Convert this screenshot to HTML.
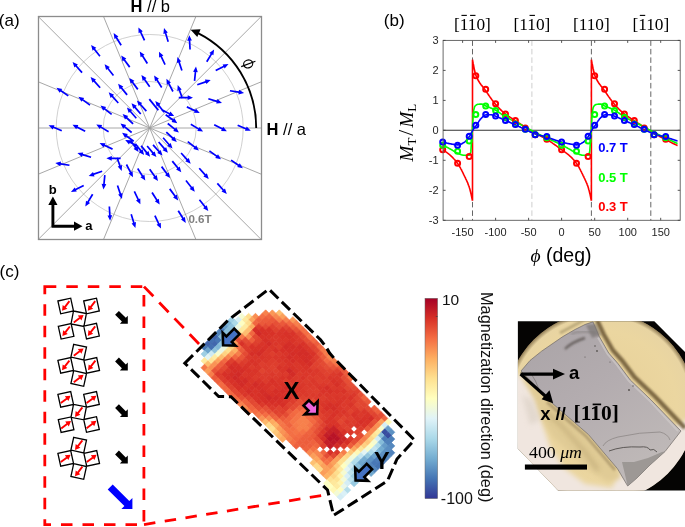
<!DOCTYPE html>
<html><head><meta charset="utf-8"><style>
html,body{margin:0;padding:0;background:#fff;}
body{width:685px;height:527px;overflow:hidden;}
svg{display:block;will-change:transform;}
svg{font-family:"Liberation Sans",sans-serif;}
</style></head><body>
<svg width="685" height="527" viewBox="0 0 685 527">
<circle cx="149.7" cy="128" r="46.5" fill="none" stroke="#c4c4c4" stroke-width="0.8"/>
<circle cx="149.7" cy="128" r="93.5" fill="none" stroke="#c4c4c4" stroke-width="0.8"/>
<line x1="261.5" y1="81.7" x2="38.5" y2="174.1" stroke="#8a8a8a" stroke-width="0.75"/>
<line x1="261.2" y1="16.5" x2="38.5" y2="239.2" stroke="#8a8a8a" stroke-width="0.75"/>
<line x1="195.9" y1="16.5" x2="103.5" y2="239.5" stroke="#8a8a8a" stroke-width="0.75"/>
<line x1="103.5" y1="16.5" x2="195.9" y2="239.5" stroke="#8a8a8a" stroke-width="0.75"/>
<line x1="38.5" y1="16.8" x2="261.2" y2="239.5" stroke="#8a8a8a" stroke-width="0.75"/>
<line x1="38.5" y1="81.9" x2="261.5" y2="174.3" stroke="#8a8a8a" stroke-width="0.75"/>
<line x1="38.5" y1="128" x2="261.5" y2="128" stroke="#a8a8a8" stroke-width="1"/>
<rect x="38.5" y="16.5" width="223" height="223" fill="none" stroke="#8c8c8c" stroke-width="1.3"/>
<path fill="#0000ff" d="M167.2 124.2 174.2 129.8 173.2 130.9 178.9 132.5 176.2 127.3 175.2 128.4 168.3 122.8ZM165.2 115.4 172.4 120.7 171.6 121.9 177.3 123.2 174.3 118.1 173.4 119.3 166.2 114.1ZM161.0 110.3 169.0 114.4 168.3 115.7 174.2 116.1 170.4 111.5 169.7 112.9 161.8 108.8ZM164.8 111.7 159.3 104.7 160.5 103.8 155.3 101.0 156.8 106.7 157.9 105.7 163.4 112.7ZM159.0 109.8 150.0 98.6 148.6 99.7 157.6 110.8ZM147.0 110.6 141.1 103.9 142.2 102.9 136.9 100.4 138.7 106.0 139.8 105.1 145.7 111.7ZM141.4 113.5 135.7 106.8 136.8 105.8 131.5 103.2 133.2 108.8 134.4 107.9 140.1 114.6ZM136.9 117.7 131.1 110.9 132.2 110.0 126.9 107.4 128.7 113.0 129.8 112.1 135.7 118.8ZM133.7 123.2 127.2 117.1 128.2 116.0 122.6 114.1 125.0 119.5 126.0 118.4 132.5 124.5ZM132.2 131.8 125.2 126.2 126.2 125.1 120.5 123.5 123.2 128.7 124.2 127.6 131.1 133.2ZM134.2 140.6 127.0 135.3 127.8 134.1 122.1 132.8 125.1 137.9 126.0 136.7 133.2 141.9ZM138.4 145.7 130.4 141.6 131.1 140.3 125.2 139.9 129.0 144.5 129.7 143.1 137.6 147.2ZM129.7 140.7 134.8 148.0 133.6 148.9 138.6 152.0 137.4 146.2 136.2 147.0 131.1 139.8ZM134.6 144.3 140.1 151.3 138.9 152.2 144.1 155.0 142.6 149.3 141.5 150.3 136.0 143.3ZM140.4 146.2 146.0 153.2 144.9 154.1 150.1 156.8 148.5 151.1 147.4 152.1 141.8 145.2ZM146.5 146.6 152.2 153.4 151.1 154.4 156.4 157.0 154.7 151.4 153.5 152.3 147.8 145.5ZM152.4 145.4 158.3 152.1 157.2 153.1 162.5 155.6 160.7 150.0 159.6 150.9 153.7 144.3ZM158.0 142.5 163.7 149.2 162.6 150.2 167.9 152.8 166.2 147.2 165.0 148.1 159.3 141.4ZM162.5 138.3 168.3 145.1 167.2 146.0 172.5 148.6 170.7 143.0 169.6 143.9 163.7 137.2ZM165.7 132.8 172.2 138.9 171.2 140.0 176.8 141.9 174.4 136.5 173.4 137.6 166.9 131.5ZM190.4 125.1 198.0 129.6 197.3 130.9 203.1 131.6 199.7 126.9 198.9 128.2 191.2 123.6ZM186.5 107.7 194.6 111.4 193.9 112.8 199.8 112.9 195.9 108.5 195.3 109.9 187.2 106.1ZM178.7 98.4 187.6 98.5 187.6 100.0 193.0 97.8 187.7 95.3 187.7 96.8 178.8 96.7ZM183.2 98.3 180.3 89.9 181.7 89.4 177.7 85.0 177.3 90.9 178.7 90.4 181.6 98.8ZM173.7 91.1 169.6 83.2 170.9 82.5 166.4 78.8 166.8 84.7 168.1 84.0 172.2 91.9ZM162.4 87.1 157.7 79.5 159.0 78.7 154.1 75.4 155.0 81.2 156.3 80.4 161.0 88.0ZM150.4 86.3 145.3 79.0 146.5 78.1 141.4 75.1 142.7 80.9 143.9 80.0 149.0 87.2ZM138.5 88.8 133.2 81.7 134.4 80.8 129.3 77.9 130.6 83.6 131.8 82.7 137.1 89.9ZM127.8 94.3 122.2 87.4 123.3 86.5 118.1 83.7 119.7 89.4 120.8 88.5 126.4 95.4ZM118.9 102.4 113.0 95.8 114.1 94.8 108.7 92.3 110.6 97.9 111.7 96.9 117.7 103.5ZM112.2 113.7 105.2 108.2 106.1 107.0 100.5 105.5 103.2 110.7 104.1 109.5 111.1 115.0ZM109.0 130.9 101.4 126.4 102.1 125.1 96.3 124.4 99.7 129.1 100.5 127.8 108.2 132.4ZM112.9 148.3 104.8 144.6 105.5 143.2 99.6 143.1 103.5 147.5 104.1 146.1 112.2 149.9ZM120.7 157.6 111.8 157.5 111.8 156.0 106.4 158.2 111.7 160.7 111.7 159.2 120.6 159.3ZM116.2 157.7 119.1 166.1 117.7 166.6 121.7 171.0 122.1 165.1 120.7 165.6 117.8 157.2ZM125.7 164.9 129.8 172.8 128.5 173.5 133.0 177.2 132.6 171.3 131.3 172.0 127.2 164.1ZM137.0 168.9 141.7 176.5 140.4 177.3 145.3 180.6 144.4 174.8 143.1 175.6 138.4 168.0ZM149.0 169.7 154.1 177.0 152.9 177.9 158.0 180.9 156.7 175.1 155.5 176.0 150.4 168.8ZM160.9 167.2 166.2 174.3 165.0 175.2 170.1 178.1 168.8 172.4 167.6 173.3 162.3 166.1ZM171.6 161.7 177.2 168.6 176.1 169.5 181.3 172.3 179.7 166.6 178.6 167.5 173.0 160.6ZM180.5 153.6 186.4 160.2 185.3 161.2 190.7 163.7 188.8 158.1 187.7 159.1 181.7 152.5ZM187.2 142.3 194.2 147.8 193.3 149.0 198.9 150.5 196.2 145.3 195.3 146.5 188.3 141.0ZM213.8 125.5 221.7 129.6 221.1 130.9 226.9 131.2 223.2 126.7 222.5 128.0 214.6 124.0ZM208.1 99.6 216.6 102.2 216.2 103.6 222.0 102.9 217.5 99.1 217.1 100.6 208.6 98.0ZM197.5 85.6 205.9 82.7 206.4 84.1 210.7 80.1 204.9 79.6 205.4 81.1 197.0 84.0ZM195.4 80.9 196.3 72.1 197.8 72.2 196.0 66.6 193.1 71.7 194.6 71.9 193.7 80.7ZM182.7 70.3 179.9 61.8 181.3 61.4 177.4 57.0 176.9 62.9 178.3 62.4 181.1 70.8ZM165.8 64.3 162.0 56.3 163.4 55.6 159.0 51.7 159.1 57.6 160.5 57.0 164.3 65.0ZM148.1 63.0 143.3 55.5 144.6 54.7 139.7 51.4 140.6 57.2 141.9 56.4 146.6 63.9ZM130.4 66.6 125.1 59.5 126.3 58.6 121.2 55.6 122.5 61.4 123.7 60.5 129.0 67.7ZM114.1 75.0 108.6 68.0 109.8 67.1 104.6 64.3 106.1 70.0 107.3 69.1 112.8 76.1ZM100.8 87.2 94.9 80.6 96.0 79.6 90.6 77.1 92.5 82.7 93.6 81.7 99.5 88.3ZM90.5 104.4 83.3 99.2 84.2 97.9 78.4 96.7 81.4 101.7 82.3 100.5 89.5 105.8ZM85.6 130.5 77.7 126.4 78.3 125.1 72.5 124.8 76.2 129.3 76.9 128.0 84.8 132.0ZM91.3 156.4 82.8 153.8 83.2 152.4 77.4 153.1 81.9 156.9 82.3 155.4 90.8 158.0ZM101.9 170.4 93.5 173.3 93.0 171.9 88.7 175.9 94.5 176.4 94.0 174.9 102.4 172.0ZM104.0 175.1 103.1 183.9 101.6 183.8 103.4 189.4 106.3 184.3 104.8 184.1 105.7 175.3ZM116.7 185.7 119.5 194.2 118.1 194.6 122.0 199.0 122.5 193.1 121.1 193.6 118.3 185.2ZM133.6 191.7 137.4 199.7 136.0 200.4 140.4 204.3 140.3 198.4 138.9 199.0 135.1 191.0ZM151.3 193.0 156.1 200.5 154.8 201.3 159.7 204.6 158.8 198.8 157.5 199.6 152.8 192.1ZM169.0 189.4 174.3 196.5 173.1 197.4 178.2 200.4 176.9 194.6 175.7 195.5 170.4 188.3ZM185.3 181.0 190.8 188.0 189.6 188.9 194.8 191.7 193.3 186.0 192.1 186.9 186.6 179.9ZM198.6 168.8 204.5 175.4 203.4 176.4 208.8 178.9 206.9 173.3 205.8 174.3 199.9 167.7ZM208.9 151.6 216.1 156.8 215.2 158.1 221.0 159.3 218.0 154.3 217.1 155.5 209.9 150.2ZM237.3 126.0 245.5 129.5 244.9 130.8 250.8 130.8 246.7 126.5 246.1 127.9 238.0 124.4ZM229.8 91.6 238.6 92.9 238.4 94.4 244.1 92.9 239.1 89.8 238.9 91.3 230.1 90.0ZM216.1 71.3 224.0 67.2 224.7 68.6 228.5 64.0 222.6 64.4 223.3 65.7 215.3 69.7ZM207.5 62.2 212.1 54.5 213.4 55.3 214.1 49.5 209.3 52.9 210.6 53.7 206.0 61.3ZM190.9 49.4 190.4 40.6 191.9 40.5 189.3 35.2 187.2 40.7 188.7 40.7 189.2 49.5ZM169.0 41.5 166.4 33.0 167.8 32.6 164.0 28.1 163.4 33.9 164.8 33.5 167.4 42.0ZM145.3 40.0 141.5 31.9 142.8 31.3 138.4 27.4 138.6 33.3 139.9 32.6 143.7 40.7ZM121.9 44.8 117.2 37.3 118.4 36.5 113.6 33.1 114.5 39.0 115.7 38.2 120.4 45.7ZM100.6 55.7 95.1 48.7 96.3 47.8 91.1 45.0 92.6 50.7 93.7 49.7 99.3 56.7ZM82.7 72.1 76.8 65.4 77.9 64.4 72.6 61.9 74.4 67.5 75.5 66.5 81.4 73.2ZM68.8 95.2 61.4 90.1 62.3 88.9 56.5 87.8 59.6 92.8 60.5 91.5 67.8 96.6ZM62.1 130.0 53.9 126.5 54.5 125.2 48.6 125.2 52.7 129.5 53.3 128.1 61.4 131.6ZM69.6 164.4 60.8 163.1 61.0 161.6 55.3 163.1 60.3 166.2 60.5 164.7 69.3 166.0ZM83.3 184.7 75.4 188.8 74.7 187.4 70.9 192.0 76.8 191.6 76.1 190.3 84.1 186.3ZM91.9 193.8 87.3 201.5 86.0 200.7 85.3 206.5 90.1 203.1 88.8 202.3 93.4 194.7ZM108.5 206.6 109.0 215.4 107.5 215.5 110.1 220.8 112.2 215.3 110.7 215.3 110.2 206.5ZM130.4 214.5 133.0 223.0 131.6 223.4 135.4 227.9 136.0 222.1 134.6 222.5 132.0 214.0ZM154.1 216.0 157.9 224.1 156.6 224.7 161.0 228.6 160.8 222.7 159.5 223.4 155.7 215.3ZM177.5 211.2 182.2 218.7 181.0 219.5 185.8 222.9 184.9 217.0 183.7 217.8 179.0 210.3ZM198.8 200.3 204.3 207.3 203.1 208.2 208.3 211.0 206.8 205.3 205.7 206.3 200.1 199.3ZM216.7 183.9 222.6 190.6 221.5 191.6 226.8 194.1 225.0 188.5 223.9 189.5 218.0 182.8ZM230.6 160.8 238.0 165.9 237.1 167.1 242.9 168.2 239.8 163.2 238.9 164.5 231.6 159.4Z"/>
<path d="M256.2 128.0 A106.5 106.5 0 0 0 198.0 33.1" fill="none" stroke="#000" stroke-width="1.9"/>
<path d="M190.6 29.7 L200.6 29.3 L197.3 37.0 Z" fill="#000"/>
<ellipse cx="248.2" cy="63.9" rx="4.6" ry="3.9" fill="none" stroke="#000" stroke-width="1.2" transform="rotate(-20 248.2 63.9)"/>
<line x1="241.2" y1="66.6" x2="255.4" y2="61.2" stroke="#000" stroke-width="1.2"/>
<text x="130.6" y="11.8" font-family="Liberation Sans" font-size="16.5"><tspan font-weight="bold">H</tspan> // b</text>
<text x="266.6" y="135" font-family="Liberation Sans" font-size="16.5"><tspan font-weight="bold">H</tspan> // a</text>
<text x="-1.2" y="26.2" font-family="Liberation Sans" font-size="17">(a)</text>
<path d="M52.9 227.6 V204 M51.5 226.2 H74" stroke="#000" stroke-width="2.9" fill="none"/>
<path d="M52.9 196.5 L57.5 205 L48.3 205 Z M82.5 226.2 L74 221.6 L74 230.8 Z" fill="#000"/>
<text x="48.8" y="193.5" font-family="Liberation Sans" font-size="13" font-weight="bold">b</text>
<text x="85.2" y="229.8" font-family="Liberation Sans" font-size="13" font-weight="bold">a</text>
<text x="188.4" y="222.9" font-family="Liberation Sans" font-size="11.6" font-weight="bold" fill="#808080">0.6T</text>
<line x1="472.5" y1="40.4" x2="472.5" y2="220.3" stroke="#555" stroke-width="0.9" stroke-dasharray="5.5 3"/>
<line x1="531.9" y1="40.4" x2="531.9" y2="220.3" stroke="#c8c8c8" stroke-width="0.9" stroke-dasharray="5.5 3"/>
<line x1="591.4" y1="40.4" x2="591.4" y2="220.3" stroke="#555" stroke-width="0.9" stroke-dasharray="5.5 3"/>
<line x1="650.8" y1="40.4" x2="650.8" y2="220.3" stroke="#555" stroke-width="0.9" stroke-dasharray="5.5 3"/>
<line x1="443.1" y1="130.3" x2="680.2" y2="130.3" stroke="#333" stroke-width="1.1"/>
<path d="M442.7 149.7 L443.1 149.9 L443.4 150.1 L443.7 150.3 L444.0 150.5 L444.4 150.7 L444.7 150.9 L445.0 151.1 L445.4 151.3 L445.7 151.6 L446.0 151.8 L446.3 152.1 L446.7 152.3 L447.0 152.6 L447.3 152.8 L447.6 153.1 L448.0 153.3 L448.3 153.6 L448.6 153.9 L448.9 154.2 L449.3 154.4 L449.6 154.7 L449.9 155.0 L450.3 155.3 L450.6 155.6 L450.9 155.9 L451.2 156.2 L451.6 156.5 L451.9 156.8 L452.2 157.1 L452.5 157.5 L452.9 157.8 L453.2 158.1 L453.5 158.5 L453.8 158.8 L454.2 159.2 L454.5 159.5 L454.8 159.9 L455.2 160.3 L455.5 160.7 L455.8 161.1 L456.1 161.5 L456.5 161.9 L456.8 162.3 L457.1 162.8 L457.4 163.2 L457.8 163.7 L458.1 164.1 L458.4 164.6 L458.7 165.1 L459.1 165.6 L459.4 166.2 L459.7 166.7 L460.1 167.3 L460.4 167.9 L460.7 168.5 L461.0 169.1 L461.4 169.7 L461.7 170.4 L462.0 171.0 L462.3 171.7 L462.7 172.3 L463.0 173.0 L463.3 173.7 L463.6 174.3 L464.0 175.0 L464.3 175.7 L464.6 176.4 L465.0 177.1 L465.3 177.7 L465.6 178.4 L465.9 179.1 L466.3 179.8 L466.6 180.5 L466.9 181.2 L467.2 182.0 L467.6 182.7 L467.9 183.5 L468.2 184.4 L468.5 185.2 L468.9 186.1 L469.2 187.1 L469.5 188.1 L469.9 189.2 L470.2 190.5 L470.5 191.7 L470.8 193.1 L471.2 194.6 L471.5 196.1 L471.8 197.6 L472.1 199.2 L472.5 200.8 M472.5 59.7 L472.8 61.4 L473.1 63.2 L473.5 64.9 L473.8 66.6 L474.1 68.3 L474.4 69.8 L474.8 71.3 L475.1 72.7 L475.4 73.9 L475.8 75.0 L476.1 75.9 L476.4 76.7 L476.8 77.4 L477.1 78.1 L477.4 78.8 L477.7 79.5 L478.1 80.1 L478.4 80.7 L478.7 81.3 L479.1 81.8 L479.4 82.3 L479.7 82.8 L480.0 83.3 L480.4 83.8 L480.7 84.2 L481.0 84.7 L481.4 85.1 L481.7 85.5 L482.0 85.9 L482.4 86.3 L482.7 86.7 L483.0 87.1 L483.3 87.5 L483.7 88.0 L484.0 88.4 L484.3 88.8 L484.7 89.2 L485.0 89.7 L485.3 90.2 L485.6 90.6 L486.0 91.1 L486.3 91.6 L486.6 92.1 L487.0 92.6 L487.3 93.1 L487.6 93.5 L488.0 94.0 L488.3 94.5 L488.6 95.0 L488.9 95.5 L489.3 95.9 L489.6 96.4 L489.9 96.9 L490.3 97.4 L490.6 97.8 L490.9 98.3 L491.2 98.8 L491.6 99.2 L491.9 99.7 L492.2 100.1 L492.6 100.6 L492.9 101.0 L493.2 101.4 L493.5 101.9 L493.9 102.3 L494.2 102.7 L494.5 103.1 L494.9 103.5 L495.2 103.9 L495.5 104.3 L495.9 104.6 L496.2 105.0 L496.5 105.4 L496.8 105.7 L497.2 106.1 L497.5 106.5 L497.8 106.8 L498.2 107.2 L498.5 107.5 L498.8 107.9 L499.1 108.2 L499.5 108.6 L499.8 108.9 L500.1 109.2 L500.5 109.6 L500.8 109.9 L501.1 110.2 L501.5 110.5 L501.8 110.8 L502.1 111.2 L502.4 111.5 L502.8 111.8 L503.1 112.1 L503.4 112.3 L503.8 112.6 L504.1 112.9 L504.4 113.2 L504.7 113.5 L505.1 113.7 L505.4 114.0 L505.7 114.2 L506.1 114.5 L506.4 114.7 L506.7 115.0 L507.1 115.2 L507.4 115.5 L507.7 115.7 L508.0 115.9 L508.4 116.1 L508.7 116.4 L509.0 116.6 L509.4 116.8 L509.7 117.0 L510.0 117.2 L510.3 117.4 L510.7 117.6 L511.0 117.8 L511.3 118.0 L511.7 118.2 L512.0 118.5 L512.3 118.7 L512.7 118.9 L513.0 119.1 L513.3 119.3 L513.6 119.5 L514.0 119.7 L514.3 119.9 L514.6 120.1 L515.0 120.4 L515.3 120.6 L515.6 120.8 L515.9 121.0 L516.3 121.2 L516.6 121.4 L516.9 121.7 L517.3 121.9 L517.6 122.1 L517.9 122.3 L518.3 122.5 L518.6 122.8 L518.9 123.0 L519.2 123.2 L519.6 123.4 L519.9 123.6 L520.2 123.9 L520.6 124.1 L520.9 124.3 L521.2 124.5 L521.5 124.7 L521.9 124.9 L522.2 125.1 L522.5 125.4 L522.9 125.6 L523.2 125.8 L523.5 126.0 L523.9 126.2 L524.2 126.4 L524.5 126.6 L524.8 126.8 L525.2 127.0 L525.5 127.3 L525.8 127.5 L526.2 127.7 L526.5 127.9 L526.8 128.1 L527.1 128.3 L527.5 128.5 L527.8 128.7 L528.1 128.9 L528.5 129.1 L528.8 129.3 L529.1 129.5 L529.5 129.7 L529.8 129.9 L530.1 130.1 L530.4 130.4 L530.8 130.6 L531.1 130.8 L531.4 131.0 L531.8 131.2 L532.1 131.4 L532.4 131.6 L532.7 131.7 L533.1 131.9 L533.4 132.1 L533.7 132.3 L534.1 132.5 L534.4 132.7 L534.7 132.9 L535.1 133.1 L535.4 133.3 L535.7 133.5 L536.0 133.7 L536.4 133.8 L536.7 134.0 L537.0 134.2 L537.4 134.4 L537.7 134.5 L538.0 134.7 L538.3 134.9 L538.7 135.1 L539.0 135.2 L539.3 135.4 L539.7 135.6 L540.0 135.7 L540.3 135.9 L540.7 136.1 L541.0 136.2 L541.3 136.4 L541.6 136.6 L542.0 136.8 L542.3 136.9 L542.6 137.1 L543.0 137.3 L543.3 137.4 L543.6 137.6 L543.9 137.8 L544.3 138.0 L544.6 138.1 L544.9 138.3 L545.3 138.5 L545.6 138.7 L545.9 138.9 L546.3 139.1 L546.6 139.3 L546.9 139.5 L547.2 139.7 L547.6 139.9 L547.9 140.1 L548.2 140.3 L548.6 140.5 L548.9 140.7 L549.2 140.9 L549.5 141.1 L549.9 141.3 L550.2 141.6 L550.5 141.8 L550.9 142.0 L551.2 142.2 L551.5 142.4 L551.9 142.7 L552.2 142.9 L552.5 143.1 L552.8 143.3 L553.2 143.6 L553.5 143.8 L553.8 144.0 L554.2 144.3 L554.5 144.5 L554.8 144.7 L555.1 145.0 L555.5 145.2 L555.8 145.4 L556.1 145.7 L556.5 145.9 L556.8 146.1 L557.1 146.4 L557.5 146.6 L557.8 146.9 L558.1 147.1 L558.4 147.3 L558.8 147.6 L559.1 147.8 L559.4 148.1 L559.8 148.3 L560.1 148.6 L560.4 148.8 L560.7 149.0 L561.1 149.3 L561.4 149.5 L561.7 149.8 L562.1 150.0 L562.4 150.2 L562.7 150.5 L563.0 150.7 L563.4 150.9 L563.7 151.2 L564.0 151.4 L564.4 151.6 L564.7 151.9 L565.0 152.1 L565.4 152.4 L565.7 152.6 L566.0 152.8 L566.3 153.1 L566.7 153.3 L567.0 153.6 L567.3 153.8 L567.7 154.1 L568.0 154.4 L568.3 154.6 L568.6 154.9 L569.0 155.2 L569.3 155.5 L569.6 155.8 L570.0 156.1 L570.3 156.4 L570.6 156.7 L571.0 157.0 L571.3 157.3 L571.6 157.6 L571.9 158.0 L572.3 158.3 L572.6 158.7 L572.9 159.0 L573.3 159.4 L573.6 159.7 L573.9 160.1 L574.2 160.5 L574.6 160.9 L574.9 161.3 L575.2 161.7 L575.6 162.2 L575.9 162.6 L576.2 163.0 L576.6 163.5 L576.9 164.0 L577.2 164.4 L577.5 164.9 L577.9 165.5 L578.2 166.0 L578.5 166.6 L578.9 167.1 L579.2 167.7 L579.5 168.3 L579.8 168.9 L580.2 169.6 L580.5 170.2 L580.8 170.8 L581.2 171.5 L581.5 172.2 L581.8 172.8 L582.2 173.5 L582.5 174.2 L582.8 174.9 L583.1 175.6 L583.5 176.2 L583.8 176.9 L584.1 177.6 L584.5 178.3 L584.8 179.0 L585.1 179.7 L585.4 180.4 L585.8 181.1 L586.1 181.9 L586.4 182.6 L586.8 183.4 L587.1 184.3 L587.4 185.1 L587.8 186.1 L588.1 187.0 L588.4 188.0 L588.7 189.2 L589.1 190.4 L589.4 191.7 L589.7 193.1 L590.1 194.5 L590.4 196.0 L590.7 197.6 L591.0 199.2 L591.4 200.8 M591.4 59.7 L591.7 61.4 L592.0 63.2 L592.4 64.9 L592.7 66.6 L593.0 68.2 L593.4 69.8 L593.7 71.3 L594.0 72.6 L594.3 73.9 L594.7 75.0 L595.0 75.9 L595.3 76.7 L595.7 77.4 L596.0 78.1 L596.3 78.8 L596.6 79.5 L597.0 80.1 L597.3 80.7 L597.6 81.3 L598.0 81.8 L598.3 82.3 L598.6 82.8 L598.9 83.3 L599.3 83.8 L599.6 84.2 L599.9 84.6 L600.3 85.1 L600.6 85.5 L600.9 85.9 L601.2 86.3 L601.6 86.7 L601.9 87.1 L602.2 87.5 L602.6 87.9 L602.9 88.4 L603.2 88.8 L603.6 89.2 L603.9 89.7 L604.2 90.1 L604.5 90.6 L604.9 91.1 L605.2 91.6 L605.5 92.1 L605.9 92.5 L606.2 93.0 L606.5 93.5 L606.8 94.0 L607.2 94.5 L607.5 95.0 L607.8 95.4 L608.2 95.9 L608.5 96.4 L608.8 96.9 L609.1 97.3 L609.5 97.8 L609.8 98.3 L610.1 98.7 L610.5 99.2 L610.8 99.6 L611.1 100.1 L611.4 100.5 L611.8 101.0 L612.1 101.4 L612.4 101.8 L612.8 102.2 L613.1 102.7 L613.4 103.1 L613.8 103.5 L614.1 103.8 L614.4 104.2 L614.7 104.6 L615.1 105.0 L615.4 105.4 L615.7 105.7 L616.1 106.1 L616.4 106.4 L616.7 106.8 L617.0 107.2 L617.4 107.5 L617.7 107.9 L618.0 108.2 L618.4 108.5 L618.7 108.9 L619.0 109.2 L619.3 109.5 L619.7 109.9 L620.0 110.2 L620.3 110.5 L620.7 110.8 L621.0 111.1 L621.3 111.4 L621.6 111.7 L622.0 112.0 L622.3 112.3 L622.6 112.6 L623.0 112.9 L623.3 113.2 L623.6 113.4 L624.0 113.7 L624.3 114.0 L624.6 114.2 L624.9 114.5 L625.3 114.7 L625.6 115.0 L625.9 115.2 L626.3 115.4 L626.6 115.7 L626.9 115.9 L627.2 116.1 L627.6 116.3 L627.9 116.5 L628.2 116.8 L628.6 117.0 L628.9 117.2 L629.2 117.4 L629.5 117.6 L629.9 117.8 L630.2 118.0 L630.5 118.2 L630.9 118.4 L631.2 118.6 L631.5 118.8 L631.8 119.0 L632.2 119.3 L632.5 119.5 L632.8 119.7 L633.2 119.9 L633.5 120.1 L633.8 120.3 L634.2 120.5 L634.5 120.8 L634.8 121.0 L635.1 121.2 L635.5 121.4 L635.8 121.6 L636.1 121.9 L636.5 122.1 L636.8 122.3 L637.1 122.5 L637.4 122.7 L637.8 123.0 L638.1 123.2 L638.4 123.4 L638.8 123.6 L639.1 123.8 L639.4 124.0 L639.7 124.3 L640.1 124.5 L640.4 124.7 L640.7 124.9 L641.1 125.1 L641.4 125.3 L641.7 125.5 L642.0 125.8 L642.4 126.0 L642.7 126.2 L643.0 126.4 L643.4 126.6 L643.7 126.8 L644.0 127.0 L644.4 127.2 L644.7 127.4 L645.0 127.6 L645.3 127.8 L645.7 128.0 L646.0 128.3 L646.3 128.5 L646.7 128.7 L647.0 128.9 L647.3 129.1 L647.6 129.3 L648.0 129.5 L648.3 129.7 L648.6 129.9 L649.0 130.1 L649.3 130.3 L649.6 130.5 L649.9 130.7 L650.3 130.9 L650.6 131.1 L650.9 131.3 L651.3 131.5 L651.6 131.7 L651.9 131.9 L652.2 132.1 L652.6 132.3 L652.9 132.5 L653.2 132.7 L653.6 132.9 L653.9 133.1 L654.2 133.3 L654.6 133.4 L654.9 133.6 L655.2 133.8 L655.5 134.0 L655.9 134.2 L656.2 134.4 L656.5 134.6 L656.9 134.8 L657.2 135.0 L657.5 135.2 L657.8 135.4 L658.2 135.5 L658.5 135.7 L658.8 135.9 L659.2 136.1 L659.5 136.3 L659.8 136.5 L660.1 136.7 L660.5 136.8 L660.8 137.0 L661.1 137.2 L661.5 137.4 L661.8 137.6 L662.1 137.8 L662.4 137.9 L662.8 138.1 L663.1 138.3 L663.4 138.5 L663.8 138.7 L664.1 138.8 L664.4 139.0 L664.8 139.2 L665.1 139.4 L665.4 139.5 L665.7 139.7 L666.1 139.9 L666.4 140.1 L666.7 140.2 L667.1 140.4 L667.4 140.6 L667.7 140.7 L668.0 140.9 L668.4 141.1 L668.7 141.2 L669.0 141.4 L669.4 141.6 L669.7 141.7 L670.0 141.9 L670.3 142.1 L670.7 142.2 L671.0 142.4 L671.3 142.6 L671.7 142.7 L672.0 142.9 L672.3 143.0 L672.6 143.2 L673.0 143.4 L673.3 143.5 L673.6 143.7 L674.0 143.8 L674.3 144.0 L674.6 144.2 L675.0 144.3 L675.3 144.5 L675.6 144.6 L675.9 144.8 L676.3 144.9 L676.6 145.1 L676.9 145.2 L677.3 145.4 L677.6 145.5 M472.5 200.8 L472.5 59.7 M591.4 200.8 L591.4 59.7" fill="none" stroke="#ff0000" stroke-width="1.6"/>
<path d="M442.7 144.9 L443.1 145.1 L443.4 145.3 L443.7 145.4 L444.1 145.6 L444.4 145.8 L444.7 146.0 L445.1 146.1 L445.4 146.3 L445.7 146.5 L446.0 146.7 L446.4 146.9 L446.7 147.0 L447.0 147.2 L447.4 147.4 L447.7 147.6 L448.0 147.8 L448.3 147.9 L448.7 148.1 L449.0 148.3 L449.3 148.5 L449.7 148.7 L450.0 148.9 L450.3 149.0 L450.7 149.2 L451.0 149.4 L451.3 149.6 L451.6 149.8 L452.0 150.0 L452.3 150.2 L452.6 150.4 L453.0 150.6 L453.3 150.8 L453.6 151.0 L454.0 151.2 L454.3 151.4 L454.6 151.6 L454.9 151.8 L455.3 152.0 L455.6 152.2 L455.9 152.4 L456.3 152.6 L456.6 152.8 L456.9 153.0 L457.3 153.1 L457.6 153.3 L457.9 153.4 L458.2 153.5 L458.6 153.6 L458.9 153.8 L459.2 153.9 L459.6 154.0 L459.9 154.2 L460.2 154.3 L460.6 154.4 L460.9 154.5 L461.2 154.7 L461.5 154.8 L461.9 154.9 L462.2 155.0 L462.5 155.0 L462.9 155.1 L463.2 155.2 L463.5 155.2 L463.9 155.3 L464.2 155.3 L464.5 155.3 L464.8 155.3 L465.2 155.3 L465.5 155.3 L465.8 155.3 L466.2 155.3 L466.5 155.3 L466.8 155.3 L467.1 155.3 L467.5 155.3 L467.8 155.3 L468.1 155.2 L468.5 155.2 L468.8 155.2 L469.1 155.2 L469.5 155.1 L469.8 154.7 L470.1 154.0 L470.4 153.1 L470.8 151.9 L471.1 147.8 L471.4 142.7 L471.8 138.8 L472.1 134.6 L472.4 128.8 L472.8 122.0 L473.1 116.8 L473.4 112.9 L473.7 110.2 L474.1 108.7 L474.4 107.5 L474.7 106.6 L475.1 106.0 L475.4 105.7 L475.7 105.4 L476.1 105.2 L476.4 104.9 L476.7 104.7 L477.0 104.6 L477.4 104.4 L477.7 104.3 L478.0 104.2 L478.4 104.2 L478.7 104.2 L479.0 104.2 L479.4 104.2 L479.7 104.1 L480.0 104.1 L480.3 104.1 L480.7 104.1 L481.0 104.1 L481.3 104.1 L481.7 104.1 L482.0 104.1 L482.3 104.2 L482.7 104.3 L483.0 104.4 L483.3 104.6 L483.6 104.8 L484.0 105.0 L484.3 105.2 L484.6 105.4 L485.0 105.5 L485.3 105.7 L485.6 105.9 L486.0 106.0 L486.3 106.1 L486.6 106.3 L486.9 106.4 L487.3 106.6 L487.6 106.7 L487.9 106.8 L488.3 107.0 L488.6 107.1 L488.9 107.2 L489.2 107.4 L489.6 107.5 L489.9 107.6 L490.2 107.8 L490.6 107.9 L490.9 108.0 L491.2 108.2 L491.6 108.3 L491.9 108.5 L492.2 108.6 L492.5 108.7 L492.9 108.9 L493.2 109.0 L493.5 109.2 L493.9 109.3 L494.2 109.5 L494.5 109.7 L494.9 109.8 L495.2 110.0 L495.5 110.2 L495.8 110.3 L496.2 110.5 L496.5 110.7 L496.8 110.9 L497.2 111.1 L497.5 111.3 L497.8 111.6 L498.2 111.8 L498.5 112.0 L498.8 112.2 L499.1 112.5 L499.5 112.7 L499.8 112.9 L500.1 113.2 L500.5 113.4 L500.8 113.6 L501.1 113.9 L501.5 114.1 L501.8 114.4 L502.1 114.6 L502.4 114.8 L502.8 115.1 L503.1 115.3 L503.4 115.5 L503.8 115.7 L504.1 115.9 L504.4 116.1 L504.8 116.3 L505.1 116.5 L505.4 116.7 L505.7 116.9 L506.1 117.1 L506.4 117.3 L506.7 117.5 L507.1 117.7 L507.4 117.9 L507.7 118.0 L508.0 118.2 L508.4 118.4 L508.7 118.6 L509.0 118.7 L509.4 118.9 L509.7 119.1 L510.0 119.2 L510.4 119.4 L510.7 119.6 L511.0 119.7 L511.3 119.9 L511.7 120.1 L512.0 120.2 L512.3 120.4 L512.7 120.6 L513.0 120.7 L513.3 120.9 L513.7 121.1 L514.0 121.2 L514.3 121.4 L514.6 121.6 L515.0 121.7 L515.3 121.9 L515.6 122.1 L516.0 122.3 L516.3 122.4 L516.6 122.6 L517.0 122.8 L517.3 122.9 L517.6 123.1 L517.9 123.2 L518.3 123.4 L518.6 123.6 L518.9 123.7 L519.3 123.9 L519.6 124.1 L519.9 124.2 L520.3 124.4 L520.6 124.6 L520.9 124.7 L521.2 124.9 L521.6 125.1 L521.9 125.2 L522.2 125.4 L522.6 125.6 L522.9 125.7 L523.2 125.9 L523.6 126.1 L523.9 126.2 L524.2 126.4 L524.5 126.6 L524.9 126.8 L525.2 126.9 L525.5 127.1 L525.9 127.3 L526.2 127.5 L526.5 127.7 L526.9 127.9 L527.2 128.0 L527.5 128.2 L527.8 128.4 L528.2 128.6 L528.5 128.8 L528.8 129.0 L529.2 129.2 L529.5 129.4 L529.8 129.5 L530.1 129.7 L530.5 129.9 L530.8 130.1 L531.1 130.3 L531.5 130.5 L531.8 130.7 L532.1 130.8 L532.5 131.0 L532.8 131.2 L533.1 131.4 L533.4 131.6 L533.8 131.7 L534.1 131.9 L534.4 132.1 L534.8 132.3 L535.1 132.4 L535.4 132.6 L535.8 132.8 L536.1 132.9 L536.4 133.1 L536.7 133.3 L537.1 133.4 L537.4 133.6 L537.7 133.8 L538.1 133.9 L538.4 134.1 L538.7 134.2 L539.1 134.4 L539.4 134.5 L539.7 134.7 L540.0 134.9 L540.4 135.0 L540.7 135.2 L541.0 135.3 L541.4 135.5 L541.7 135.6 L542.0 135.8 L542.4 135.9 L542.7 136.1 L543.0 136.2 L543.3 136.4 L543.7 136.5 L544.0 136.7 L544.3 136.9 L544.7 137.0 L545.0 137.2 L545.3 137.3 L545.7 137.5 L546.0 137.6 L546.3 137.8 L546.6 137.9 L547.0 138.1 L547.3 138.2 L547.6 138.4 L548.0 138.5 L548.3 138.7 L548.6 138.9 L548.9 139.0 L549.3 139.2 L549.6 139.3 L549.9 139.5 L550.3 139.6 L550.6 139.8 L550.9 139.9 L551.3 140.0 L551.6 140.2 L551.9 140.3 L552.2 140.5 L552.6 140.6 L552.9 140.8 L553.2 140.9 L553.6 141.1 L553.9 141.2 L554.2 141.4 L554.6 141.5 L554.9 141.7 L555.2 141.8 L555.5 142.0 L555.9 142.1 L556.2 142.3 L556.5 142.4 L556.9 142.6 L557.2 142.7 L557.5 142.9 L557.9 143.1 L558.2 143.2 L558.5 143.4 L558.8 143.5 L559.2 143.7 L559.5 143.8 L559.8 144.0 L560.2 144.2 L560.5 144.3 L560.8 144.5 L561.2 144.7 L561.5 144.8 L561.8 145.0 L562.1 145.2 L562.5 145.3 L562.8 145.5 L563.1 145.7 L563.5 145.8 L563.8 146.0 L564.1 146.2 L564.5 146.4 L564.8 146.6 L565.1 146.7 L565.4 146.9 L565.8 147.1 L566.1 147.3 L566.4 147.5 L566.8 147.6 L567.1 147.8 L567.4 148.0 L567.7 148.2 L568.1 148.4 L568.4 148.6 L568.7 148.8 L569.1 148.9 L569.4 149.1 L569.7 149.3 L570.1 149.5 L570.4 149.7 L570.7 149.9 L571.0 150.1 L571.4 150.3 L571.7 150.5 L572.0 150.7 L572.4 150.9 L572.7 151.1 L573.0 151.3 L573.4 151.5 L573.7 151.7 L574.0 151.9 L574.3 152.1 L574.7 152.3 L575.0 152.5 L575.3 152.7 L575.7 152.9 L576.0 153.0 L576.3 153.2 L576.7 153.3 L577.0 153.5 L577.3 153.6 L577.6 153.7 L578.0 153.8 L578.3 154.0 L578.6 154.1 L579.0 154.2 L579.3 154.4 L579.6 154.5 L580.0 154.6 L580.3 154.7 L580.6 154.8 L580.9 154.9 L581.3 155.0 L581.6 155.1 L581.9 155.1 L582.3 155.2 L582.6 155.2 L582.9 155.3 L583.3 155.3 L583.6 155.3 L583.9 155.3 L584.2 155.3 L584.6 155.3 L584.9 155.3 L585.2 155.3 L585.6 155.3 L585.9 155.3 L586.2 155.3 L586.6 155.3 L586.9 155.3 L587.2 155.2 L587.5 155.2 L587.9 155.2 L588.2 155.2 L588.5 154.9 L588.9 154.4 L589.2 153.6 L589.5 152.5 L589.8 150.3 L590.2 145.1 L590.5 140.7 L590.8 136.8 L591.2 132.0 L591.5 125.4 L591.8 119.1 L592.2 114.8 L592.5 111.4 L592.8 109.4 L593.1 108.1 L593.5 107.0 L593.8 106.3 L594.1 105.9 L594.5 105.6 L594.8 105.3 L595.1 105.0 L595.5 104.8 L595.8 104.6 L596.1 104.5 L596.4 104.4 L596.8 104.3 L597.1 104.2 L597.4 104.2 L597.8 104.2 L598.1 104.2 L598.4 104.1 L598.8 104.1 L599.1 104.1 L599.4 104.1 L599.7 104.1 L600.1 104.1 L600.4 104.1 L600.7 104.1 L601.1 104.1 L601.4 104.2 L601.7 104.3 L602.1 104.5 L602.4 104.7 L602.7 104.9 L603.0 105.1 L603.4 105.3 L603.7 105.4 L604.0 105.6 L604.4 105.8 L604.7 105.9 L605.0 106.1 L605.4 106.2 L605.7 106.4 L606.0 106.5 L606.3 106.6 L606.7 106.8 L607.0 106.9 L607.3 107.0 L607.7 107.2 L608.0 107.3 L608.3 107.4 L608.6 107.6 L609.0 107.7 L609.3 107.8 L609.6 108.0 L610.0 108.1 L610.3 108.2 L610.6 108.4 L611.0 108.5 L611.3 108.7 L611.6 108.8 L611.9 109.0 L612.3 109.1 L612.6 109.3 L612.9 109.4 L613.3 109.6 L613.6 109.7 L613.9 109.9 L614.3 110.1 L614.6 110.3 L614.9 110.4 L615.2 110.6 L615.6 110.8 L615.9 111.0 L616.2 111.2 L616.6 111.5 L616.9 111.7 L617.2 111.9 L617.6 112.1 L617.9 112.3 L618.2 112.6 L618.5 112.8 L618.9 113.0 L619.2 113.3 L619.5 113.5 L619.9 113.8 L620.2 114.0 L620.5 114.2 L620.9 114.5 L621.2 114.7 L621.5 114.9 L621.8 115.2 L622.2 115.4 L622.5 115.6 L622.8 115.8 L623.2 116.0 L623.5 116.2 L623.8 116.4 L624.2 116.6 L624.5 116.8 L624.8 117.0 L625.1 117.2 L625.5 117.4 L625.8 117.6 L626.1 117.8 L626.5 117.9 L626.8 118.1 L627.1 118.3 L627.5 118.5 L627.8 118.6 L628.1 118.8 L628.4 119.0 L628.8 119.2 L629.1 119.3 L629.4 119.5 L629.8 119.7 L630.1 119.8 L630.4 120.0 L630.7 120.2 L631.1 120.3 L631.4 120.5 L631.7 120.7 L632.1 120.8 L632.4 121.0 L632.7 121.2 L633.1 121.3 L633.4 121.5 L633.7 121.7 L634.0 121.8 L634.4 122.0 L634.7 122.2 L635.0 122.3 L635.4 122.5 L635.7 122.7 L636.0 122.8 L636.4 123.0 L636.7 123.2 L637.0 123.3 L637.3 123.5 L637.7 123.7 L638.0 123.8 L638.3 124.0 L638.7 124.1 L639.0 124.3 L639.3 124.5 L639.7 124.6 L640.0 124.8 L640.3 125.0 L640.6 125.1 L641.0 125.3 L641.3 125.5 L641.6 125.6 L642.0 125.8 L642.3 126.0 L642.6 126.2 L643.0 126.3 L643.3 126.5 L643.6 126.7 L643.9 126.9 L644.3 127.0 L644.6 127.2 L644.9 127.4 L645.3 127.6 L645.6 127.8 L645.9 127.9 L646.3 128.1 L646.6 128.3 L646.9 128.5 L647.2 128.7 L647.6 128.9 L647.9 129.1 L648.2 129.3 L648.6 129.4 L648.9 129.6 L649.2 129.8 L649.5 130.0 L649.9 130.2 L650.2 130.4 L650.5 130.6 L650.9 130.7 L651.2 130.9 L651.5 131.1 L651.9 131.3 L652.2 131.5 L652.5 131.7 L652.8 131.8 L653.2 132.0 L653.5 132.2 L653.8 132.3 L654.2 132.5 L654.5 132.7 L654.8 132.9 L655.2 133.0 L655.5 133.2 L655.8 133.3 L656.1 133.5 L656.5 133.7 L656.8 133.8 L657.1 134.0 L657.5 134.1 L657.8 134.3 L658.1 134.5 L658.5 134.6 L658.8 134.8 L659.1 134.9 L659.4 135.1 L659.8 135.2 L660.1 135.4 L660.4 135.6 L660.8 135.7 L661.1 135.9 L661.4 136.0 L661.8 136.2 L662.1 136.3 L662.4 136.5 L662.7 136.6 L663.1 136.8 L663.4 136.9 L663.7 137.1 L664.1 137.2 L664.4 137.4 L664.7 137.5 L665.1 137.7 L665.4 137.9 L665.7 138.0 L666.0 138.2 L666.4 138.3 L666.7 138.5 L667.0 138.6 L667.4 138.8 L667.7 138.9 L668.0 139.1 L668.3 139.2 L668.7 139.4 L669.0 139.6 L669.3 139.7 L669.7 139.9 L670.0 140.0 L670.3 140.2 L670.7 140.3 L671.0 140.5 L671.3 140.6 L671.6 140.8 L672.0 140.9 L672.3 141.1 L672.6 141.2 L673.0 141.4 L673.3 141.6 L673.6 141.7 L674.0 141.9 L674.3 142.0 L674.6 142.2 L674.9 142.3 L675.3 142.5 L675.6 142.6 L675.9 142.8 L676.3 142.9 L676.6 143.1 L676.9 143.2 L677.3 143.4 L677.6 143.5" fill="none" stroke="#00ff00" stroke-width="1.6"/>
<path d="M442.7 142.1 L443.1 142.2 L443.4 142.3 L443.7 142.4 L444.1 142.4 L444.4 142.5 L444.7 142.6 L445.1 142.7 L445.4 142.8 L445.7 142.9 L446.0 142.9 L446.4 143.0 L446.7 143.1 L447.0 143.2 L447.4 143.2 L447.7 143.3 L448.0 143.4 L448.3 143.4 L448.7 143.5 L449.0 143.6 L449.3 143.6 L449.7 143.7 L450.0 143.8 L450.3 143.8 L450.7 143.9 L451.0 143.9 L451.3 144.0 L451.6 144.1 L452.0 144.1 L452.3 144.2 L452.6 144.2 L453.0 144.3 L453.3 144.4 L453.6 144.4 L454.0 144.5 L454.3 144.5 L454.6 144.6 L454.9 144.6 L455.3 144.7 L455.6 144.7 L455.9 144.8 L456.3 144.8 L456.6 144.8 L456.9 144.9 L457.3 144.9 L457.6 144.9 L457.9 144.9 L458.2 144.9 L458.6 144.9 L458.9 144.8 L459.2 144.7 L459.6 144.7 L459.9 144.6 L460.2 144.5 L460.6 144.3 L460.9 144.2 L461.2 144.0 L461.5 143.9 L461.9 143.7 L462.2 143.5 L462.5 143.3 L462.9 143.1 L463.2 142.9 L463.5 142.7 L463.9 142.5 L464.2 142.3 L464.5 142.1 L464.8 141.9 L465.2 141.6 L465.5 141.3 L465.8 141.0 L466.2 140.7 L466.5 140.3 L466.8 139.9 L467.1 139.5 L467.5 139.0 L467.8 138.6 L468.1 138.1 L468.5 137.7 L468.8 137.2 L469.1 136.7 L469.5 136.3 L469.8 135.8 L470.1 135.2 L470.4 134.6 L470.8 134.0 L471.1 133.4 L471.4 132.7 L471.8 132.1 L472.1 131.5 L472.4 130.9 L472.8 130.3 L473.1 129.8 L473.4 129.3 L473.7 128.8 L474.1 128.3 L474.4 127.9 L474.7 127.5 L475.1 127.0 L475.4 126.6 L475.7 126.1 L476.1 125.7 L476.4 125.2 L476.7 124.7 L477.0 124.2 L477.4 123.7 L477.7 123.2 L478.0 122.7 L478.4 122.1 L478.7 121.6 L479.0 121.1 L479.4 120.6 L479.7 120.2 L480.0 119.7 L480.3 119.3 L480.7 118.9 L481.0 118.6 L481.3 118.2 L481.7 117.9 L482.0 117.5 L482.3 117.2 L482.7 116.8 L483.0 116.5 L483.3 116.2 L483.6 115.9 L484.0 115.7 L484.3 115.5 L484.6 115.3 L485.0 115.1 L485.3 115.0 L485.6 115.0 L486.0 114.9 L486.3 114.9 L486.6 114.9 L486.9 114.9 L487.3 114.8 L487.6 114.8 L487.9 114.8 L488.3 114.8 L488.6 114.7 L488.9 114.7 L489.2 114.7 L489.6 114.7 L489.9 114.7 L490.2 114.7 L490.6 114.7 L490.9 114.7 L491.2 114.8 L491.6 114.8 L491.9 114.9 L492.2 115.0 L492.5 115.1 L492.9 115.2 L493.2 115.3 L493.5 115.4 L493.9 115.6 L494.2 115.7 L494.5 115.8 L494.9 115.9 L495.2 116.0 L495.5 116.1 L495.8 116.3 L496.2 116.4 L496.5 116.5 L496.8 116.6 L497.2 116.7 L497.5 116.9 L497.8 117.0 L498.2 117.1 L498.5 117.3 L498.8 117.4 L499.1 117.6 L499.5 117.7 L499.8 117.9 L500.1 118.0 L500.5 118.2 L500.8 118.3 L501.1 118.5 L501.5 118.6 L501.8 118.8 L502.1 118.9 L502.4 119.1 L502.8 119.2 L503.1 119.4 L503.4 119.5 L503.8 119.7 L504.1 119.8 L504.4 120.0 L504.8 120.1 L505.1 120.3 L505.4 120.4 L505.7 120.5 L506.1 120.7 L506.4 120.8 L506.7 121.0 L507.1 121.1 L507.4 121.3 L507.7 121.4 L508.0 121.6 L508.4 121.7 L508.7 121.8 L509.0 122.0 L509.4 122.1 L509.7 122.3 L510.0 122.4 L510.4 122.6 L510.7 122.7 L511.0 122.9 L511.3 123.0 L511.7 123.2 L512.0 123.3 L512.3 123.5 L512.7 123.6 L513.0 123.7 L513.3 123.9 L513.7 124.0 L514.0 124.2 L514.3 124.3 L514.6 124.5 L515.0 124.6 L515.3 124.8 L515.6 124.9 L516.0 125.1 L516.3 125.3 L516.6 125.4 L517.0 125.6 L517.3 125.7 L517.6 125.9 L517.9 126.0 L518.3 126.2 L518.6 126.3 L518.9 126.5 L519.3 126.7 L519.6 126.8 L519.9 127.0 L520.3 127.1 L520.6 127.3 L520.9 127.4 L521.2 127.6 L521.6 127.8 L521.9 127.9 L522.2 128.1 L522.6 128.2 L522.9 128.4 L523.2 128.5 L523.6 128.7 L523.9 128.8 L524.2 129.0 L524.5 129.2 L524.9 129.3 L525.2 129.5 L525.5 129.6 L525.9 129.8 L526.2 129.9 L526.5 130.1 L526.9 130.3 L527.2 130.4 L527.5 130.6 L527.8 130.8 L528.2 130.9 L528.5 131.1 L528.8 131.2 L529.2 131.4 L529.5 131.6 L529.8 131.7 L530.1 131.9 L530.5 132.0 L530.8 132.2 L531.1 132.3 L531.5 132.5 L531.8 132.6 L532.1 132.8 L532.5 132.9 L532.8 133.1 L533.1 133.2 L533.4 133.3 L533.8 133.5 L534.1 133.6 L534.4 133.7 L534.8 133.8 L535.1 134.0 L535.4 134.1 L535.8 134.2 L536.1 134.3 L536.4 134.4 L536.7 134.5 L537.1 134.6 L537.4 134.7 L537.7 134.8 L538.1 134.9 L538.4 135.0 L538.7 135.1 L539.1 135.2 L539.4 135.2 L539.7 135.3 L540.0 135.4 L540.4 135.5 L540.7 135.6 L541.0 135.7 L541.4 135.8 L541.7 135.8 L542.0 135.9 L542.4 136.0 L542.7 136.1 L543.0 136.2 L543.3 136.3 L543.7 136.3 L544.0 136.4 L544.3 136.5 L544.7 136.6 L545.0 136.7 L545.3 136.8 L545.7 136.9 L546.0 137.0 L546.3 137.1 L546.6 137.2 L547.0 137.3 L547.3 137.4 L547.6 137.5 L548.0 137.6 L548.3 137.7 L548.6 137.8 L548.9 137.9 L549.3 138.0 L549.6 138.1 L549.9 138.2 L550.3 138.3 L550.6 138.4 L550.9 138.6 L551.3 138.7 L551.6 138.8 L551.9 138.9 L552.2 139.0 L552.6 139.1 L552.9 139.3 L553.2 139.4 L553.6 139.5 L553.9 139.6 L554.2 139.7 L554.6 139.8 L554.9 140.0 L555.2 140.1 L555.5 140.2 L555.9 140.3 L556.2 140.4 L556.5 140.5 L556.9 140.6 L557.2 140.8 L557.5 140.9 L557.9 141.0 L558.2 141.1 L558.5 141.2 L558.8 141.3 L559.2 141.4 L559.5 141.5 L559.8 141.6 L560.2 141.7 L560.5 141.8 L560.8 141.9 L561.2 142.0 L561.5 142.1 L561.8 142.1 L562.1 142.2 L562.5 142.3 L562.8 142.4 L563.1 142.5 L563.5 142.6 L563.8 142.6 L564.1 142.7 L564.5 142.8 L564.8 142.9 L565.1 143.0 L565.4 143.0 L565.8 143.1 L566.1 143.2 L566.4 143.3 L566.8 143.3 L567.1 143.4 L567.4 143.5 L567.7 143.5 L568.1 143.6 L568.4 143.7 L568.7 143.7 L569.1 143.8 L569.4 143.9 L569.7 143.9 L570.1 144.0 L570.4 144.0 L570.7 144.1 L571.0 144.1 L571.4 144.2 L571.7 144.3 L572.0 144.3 L572.4 144.4 L572.7 144.4 L573.0 144.5 L573.4 144.6 L573.7 144.6 L574.0 144.7 L574.3 144.7 L574.7 144.8 L575.0 144.8 L575.3 144.8 L575.7 144.9 L576.0 144.9 L576.3 144.9 L576.7 144.9 L577.0 144.9 L577.3 144.9 L577.6 144.8 L578.0 144.8 L578.3 144.7 L578.6 144.6 L579.0 144.5 L579.3 144.4 L579.6 144.3 L580.0 144.1 L580.3 144.0 L580.6 143.8 L580.9 143.6 L581.3 143.4 L581.6 143.2 L581.9 143.1 L582.3 142.8 L582.6 142.6 L582.9 142.4 L583.3 142.2 L583.6 142.0 L583.9 141.8 L584.2 141.5 L584.6 141.2 L584.9 140.8 L585.2 140.5 L585.6 140.1 L585.9 139.7 L586.2 139.3 L586.6 138.8 L586.9 138.4 L587.2 137.9 L587.5 137.4 L587.9 137.0 L588.2 136.5 L588.5 136.0 L588.9 135.5 L589.2 134.9 L589.5 134.3 L589.8 133.7 L590.2 133.1 L590.5 132.4 L590.8 131.8 L591.2 131.2 L591.5 130.6 L591.8 130.0 L592.2 129.5 L592.5 129.0 L592.8 128.6 L593.1 128.1 L593.5 127.7 L593.8 127.2 L594.1 126.8 L594.5 126.4 L594.8 125.9 L595.1 125.4 L595.5 125.0 L595.8 124.5 L596.1 124.0 L596.4 123.4 L596.8 122.9 L597.1 122.4 L597.4 121.9 L597.8 121.4 L598.1 120.9 L598.4 120.4 L598.8 119.9 L599.1 119.5 L599.4 119.1 L599.7 118.7 L600.1 118.4 L600.4 118.0 L600.7 117.7 L601.1 117.4 L601.4 117.0 L601.7 116.7 L602.1 116.4 L602.4 116.1 L602.7 115.8 L603.0 115.6 L603.4 115.4 L603.7 115.2 L604.0 115.1 L604.4 115.0 L604.7 115.0 L605.0 114.9 L605.4 114.9 L605.7 114.9 L606.0 114.8 L606.3 114.8 L606.7 114.8 L607.0 114.8 L607.3 114.7 L607.7 114.7 L608.0 114.7 L608.3 114.7 L608.6 114.7 L609.0 114.7 L609.3 114.7 L609.6 114.7 L610.0 114.8 L610.3 114.8 L610.6 114.9 L611.0 115.0 L611.3 115.0 L611.6 115.1 L611.9 115.3 L612.3 115.4 L612.6 115.5 L612.9 115.6 L613.3 115.7 L613.6 115.9 L613.9 116.0 L614.3 116.1 L614.6 116.2 L614.9 116.3 L615.2 116.4 L615.6 116.5 L615.9 116.7 L616.2 116.8 L616.6 116.9 L616.9 117.1 L617.2 117.2 L617.6 117.3 L617.9 117.5 L618.2 117.6 L618.5 117.8 L618.9 117.9 L619.2 118.1 L619.5 118.2 L619.9 118.4 L620.2 118.5 L620.5 118.7 L620.9 118.8 L621.2 119.0 L621.5 119.1 L621.8 119.3 L622.2 119.4 L622.5 119.6 L622.8 119.7 L623.2 119.9 L623.5 120.0 L623.8 120.2 L624.2 120.3 L624.5 120.5 L624.8 120.6 L625.1 120.8 L625.5 120.9 L625.8 121.1 L626.1 121.2 L626.5 121.3 L626.8 121.5 L627.1 121.6 L627.5 121.8 L627.8 121.9 L628.1 122.1 L628.4 122.2 L628.8 122.4 L629.1 122.5 L629.4 122.6 L629.8 122.8 L630.1 122.9 L630.4 123.1 L630.7 123.2 L631.1 123.4 L631.4 123.5 L631.7 123.7 L632.1 123.8 L632.4 124.0 L632.7 124.1 L633.1 124.3 L633.4 124.4 L633.7 124.6 L634.0 124.7 L634.4 124.9 L634.7 125.0 L635.0 125.2 L635.4 125.3 L635.7 125.5 L636.0 125.6 L636.4 125.8 L636.7 126.0 L637.0 126.1 L637.3 126.3 L637.7 126.4 L638.0 126.6 L638.3 126.7 L638.7 126.9 L639.0 127.1 L639.3 127.2 L639.7 127.4 L640.0 127.5 L640.3 127.7 L640.6 127.8 L641.0 128.0 L641.3 128.2 L641.6 128.3 L642.0 128.5 L642.3 128.6 L642.6 128.8 L643.0 128.9 L643.3 129.1 L643.6 129.2 L643.9 129.4 L644.3 129.5 L644.6 129.7 L644.9 129.9 L645.3 130.0 L645.6 130.2 L645.9 130.3 L646.3 130.5 L646.6 130.7 L646.9 130.8 L647.2 131.0 L647.6 131.2 L647.9 131.3 L648.2 131.5 L648.6 131.6 L648.9 131.8 L649.2 131.9 L649.5 132.1 L649.9 132.3 L650.2 132.4 L650.5 132.6 L650.9 132.7 L651.2 132.8 L651.5 133.0 L651.9 133.1 L652.2 133.3 L652.5 133.4 L652.8 133.5 L653.2 133.7 L653.5 133.8 L653.8 133.9 L654.2 134.0 L654.5 134.1 L654.8 134.2 L655.2 134.3 L655.5 134.4 L655.8 134.5 L656.1 134.6 L656.5 134.7 L656.8 134.8 L657.1 134.9 L657.5 135.0 L657.8 135.1 L658.1 135.2 L658.5 135.3 L658.8 135.4 L659.1 135.5 L659.4 135.5 L659.8 135.6 L660.1 135.7 L660.4 135.8 L660.8 135.9 L661.1 136.0 L661.4 136.0 L661.8 136.1 L662.1 136.2 L662.4 136.3 L662.7 136.4 L663.1 136.5 L663.4 136.6 L663.7 136.6 L664.1 136.7 L664.4 136.8 L664.7 136.9 L665.1 137.0 L665.4 137.1 L665.7 137.2 L666.0 137.3 L666.4 137.4 L666.7 137.5 L667.0 137.6 L667.4 137.7 L667.7 137.8 L668.0 137.9 L668.3 138.0 L668.7 138.1 L669.0 138.2 L669.3 138.3 L669.7 138.4 L670.0 138.5 L670.3 138.6 L670.7 138.7 L671.0 138.8 L671.3 138.9 L671.6 139.1 L672.0 139.2 L672.3 139.3 L672.6 139.4 L673.0 139.5 L673.3 139.6 L673.6 139.7 L674.0 139.8 L674.3 139.9 L674.6 140.0 L674.9 140.1 L675.3 140.3 L675.6 140.4 L675.9 140.5 L676.3 140.6 L676.6 140.7 L676.9 140.8 L677.3 140.9 L677.6 141.0" fill="none" stroke="#0000ff" stroke-width="1.6"/>
<g fill="none" stroke="#ff0000" stroke-width="2.0"><circle cx="442.7" cy="149.8" r="2.5"/><circle cx="457.6" cy="163.3" r="2.5"/><circle cx="469.2" cy="156.4" r="2.5"/><circle cx="475.8" cy="75.8" r="2.5"/><circle cx="485.7" cy="89.3" r="2.5"/><circle cx="495.6" cy="103.7" r="2.5"/><circle cx="505.5" cy="113.9" r="2.5"/><circle cx="515.4" cy="120.5" r="2.5"/><circle cx="525.3" cy="128.0" r="2.5"/><circle cx="535.2" cy="134.8" r="2.5"/><circle cx="546.8" cy="139.3" r="2.5"/><circle cx="561.6" cy="149.8" r="2.5"/><circle cx="576.5" cy="163.3" r="2.5"/><circle cx="588.1" cy="156.4" r="2.5"/><circle cx="594.7" cy="75.8" r="2.5"/><circle cx="604.6" cy="89.3" r="2.5"/><circle cx="614.5" cy="103.7" r="2.5"/><circle cx="624.4" cy="113.9" r="2.5"/><circle cx="634.3" cy="120.5" r="2.5"/><circle cx="644.2" cy="128.0" r="2.5"/><circle cx="654.1" cy="134.8" r="2.5"/><circle cx="665.7" cy="139.3" r="2.5"/></g>
<g fill="none" stroke="#00ff00" stroke-width="2.0"><circle cx="442.7" cy="145.3" r="2.5"/><circle cx="457.6" cy="151.3" r="2.5"/><circle cx="469.2" cy="141.1" r="2.5"/><circle cx="475.8" cy="114.5" r="2.5"/><circle cx="485.7" cy="106.1" r="2.5"/><circle cx="495.6" cy="110.6" r="2.5"/><circle cx="505.5" cy="117.2" r="2.5"/><circle cx="515.4" cy="124.1" r="2.5"/><circle cx="525.3" cy="129.2" r="2.5"/><circle cx="535.2" cy="134.5" r="2.5"/><circle cx="546.8" cy="137.8" r="2.5"/><circle cx="561.6" cy="145.3" r="2.5"/><circle cx="576.5" cy="151.3" r="2.5"/><circle cx="588.1" cy="141.1" r="2.5"/><circle cx="594.7" cy="114.5" r="2.5"/><circle cx="604.6" cy="106.1" r="2.5"/><circle cx="614.5" cy="110.6" r="2.5"/><circle cx="624.4" cy="117.2" r="2.5"/><circle cx="634.3" cy="124.1" r="2.5"/><circle cx="644.2" cy="129.2" r="2.5"/><circle cx="654.1" cy="134.5" r="2.5"/><circle cx="665.7" cy="137.8" r="2.5"/></g>
<g fill="none" stroke="#0000ff" stroke-width="2.0"><circle cx="442.7" cy="142.0" r="2.5"/><circle cx="457.6" cy="145.3" r="2.5"/><circle cx="469.2" cy="136.3" r="2.5"/><circle cx="475.8" cy="125.3" r="2.5"/><circle cx="485.7" cy="114.5" r="2.5"/><circle cx="495.6" cy="116.0" r="2.5"/><circle cx="505.5" cy="120.5" r="2.5"/><circle cx="515.4" cy="124.4" r="2.5"/><circle cx="525.3" cy="129.2" r="2.5"/><circle cx="535.2" cy="134.8" r="2.5"/><circle cx="546.8" cy="136.6" r="2.5"/><circle cx="561.6" cy="142.0" r="2.5"/><circle cx="576.5" cy="145.3" r="2.5"/><circle cx="588.1" cy="136.3" r="2.5"/><circle cx="594.7" cy="125.3" r="2.5"/><circle cx="604.6" cy="114.5" r="2.5"/><circle cx="614.5" cy="116.0" r="2.5"/><circle cx="624.4" cy="120.5" r="2.5"/><circle cx="634.3" cy="124.4" r="2.5"/><circle cx="644.2" cy="129.2" r="2.5"/><circle cx="654.1" cy="134.8" r="2.5"/><circle cx="665.7" cy="136.6" r="2.5"/></g>
<rect x="443.1" y="40.4" width="237.1" height="179.9" fill="none" stroke="#5a5a5a" stroke-width="0.9"/>
<path d="M462.6 220.3 v-2.5 M462.6 40.4 v2.5 M495.6 220.3 v-2.5 M495.6 40.4 v2.5 M528.6 220.3 v-2.5 M528.6 40.4 v2.5 M561.6 220.3 v-2.5 M561.6 40.4 v2.5 M594.7 220.3 v-2.5 M594.7 40.4 v2.5 M627.7 220.3 v-2.5 M627.7 40.4 v2.5 M660.7 220.3 v-2.5 M660.7 40.4 v2.5 M443.1 220.3 h2.5 M680.2 220.3 h-2.5 M443.1 190.3 h2.5 M680.2 190.3 h-2.5 M443.1 160.3 h2.5 M680.2 160.3 h-2.5 M443.1 130.3 h2.5 M680.2 130.3 h-2.5 M443.1 100.4 h2.5 M680.2 100.4 h-2.5 M443.1 70.4 h2.5 M680.2 70.4 h-2.5 M443.1 40.4 h2.5 M680.2 40.4 h-2.5" stroke="#444" stroke-width="0.9" fill="none"/>
<g font-family="Liberation Sans" font-size="11" fill="#262626"><text x="462.6" y="236.2" text-anchor="middle">-150</text><text x="495.6" y="236.2" text-anchor="middle">-100</text><text x="528.6" y="236.2" text-anchor="middle">-50</text><text x="561.6" y="236.2" text-anchor="middle">0</text><text x="594.7" y="236.2" text-anchor="middle">50</text><text x="627.7" y="236.2" text-anchor="middle">100</text><text x="660.7" y="236.2" text-anchor="middle">150</text><text x="438.6" y="224.2" text-anchor="end">-3</text><text x="438.6" y="194.2" text-anchor="end">-2</text><text x="438.6" y="164.2" text-anchor="end">-1</text><text x="438.6" y="134.2" text-anchor="end">0</text><text x="438.6" y="104.3" text-anchor="end">1</text><text x="438.6" y="74.3" text-anchor="end">2</text><text x="438.6" y="44.3" text-anchor="end">3</text></g>
<text x="454.07" y="29.60" font-family="Liberation Serif" font-size="17" textLength="36.80" lengthAdjust="spacingAndGlyphs">[110]</text><line x1="461.45" y1="15.40" x2="466.85" y2="15.40" stroke="#000" stroke-width="1.1"/><line x1="470.09" y1="15.40" x2="475.49" y2="15.40" stroke="#000" stroke-width="1.1"/><text x="513.52" y="29.60" font-family="Liberation Serif" font-size="17" textLength="36.80" lengthAdjust="spacingAndGlyphs">[110]</text><line x1="529.54" y1="15.40" x2="534.94" y2="15.40" stroke="#000" stroke-width="1.1"/><text x="572.98" y="29.60" font-family="Liberation Serif" font-size="17" textLength="36.80" lengthAdjust="spacingAndGlyphs">[110]</text><text x="632.43" y="29.60" font-family="Liberation Serif" font-size="17" textLength="36.80" lengthAdjust="spacingAndGlyphs">[110]</text><line x1="639.81" y1="15.40" x2="645.21" y2="15.40" stroke="#000" stroke-width="1.1"/>
<g font-family="Liberation Sans" font-size="13" font-weight="bold"><text x="598.2" y="152.3" fill="#0000ff">0.7 T</text><text x="598.2" y="181.6" fill="#00ff00">0.5 T</text><text x="598.2" y="210.9" fill="#ff0000">0.3 T</text></g>
<text x="383.8" y="26.2" font-family="Liberation Sans" font-size="17">(b)</text>
<text transform="translate(413.2 132.6) rotate(-90)" text-anchor="middle" font-family="Liberation Serif" font-size="19"><tspan font-style="italic">M</tspan><tspan font-size="13" dy="3">T</tspan><tspan dy="-3" dx="2" font-size="22">/</tspan><tspan font-style="italic" dx="2">M</tspan><tspan font-size="13" dy="3">L</tspan></text>
<text x="561" y="261.5" text-anchor="middle" font-family="Liberation Sans" font-size="19.5"><tspan font-family="Liberation Serif" font-style="italic">&#981;</tspan> (deg)</text>
<text x="-0.5" y="277.4" font-family="Liberation Sans" font-size="17">(c)</text>
<rect x="44.8" y="286.6" width="99.1" height="238" fill="none" stroke="#ff0000" stroke-width="2.8" stroke-dasharray="11.5 10"/>
<path d="M144 286.6 L200.8 345.8" fill="none" stroke="#ff0000" stroke-width="2.8" stroke-dasharray="13.5 8.5"/>
<path d="M144 524.6 L326 494.8" fill="none" stroke="#ff0000" stroke-width="2.8" stroke-dasharray="11.5 9.5"/>
<path d="M73.5 311.0 L86.4 313.5 L83.9 326.4 L71.0 323.9ZM57.9 301.0 L70.7 298.2 L73.5 311.0 L60.7 313.8ZM83.7 301.0 L96.5 298.2 L99.3 311.0 L86.5 313.8ZM58.3 326.3 L71.1 323.5 L73.9 336.3 L61.1 339.1ZM83.7 326.1 L96.5 323.3 L99.3 336.1 L86.5 338.9ZM73.7 344.3 L86.5 347.1 L83.7 359.9 L70.9 357.1ZM73.7 370.7 L86.5 373.5 L83.7 386.3 L70.9 383.5ZM57.9 360.4 L70.7 357.6 L73.5 370.4 L60.7 373.2ZM83.9 360.4 L96.7 357.6 L99.5 370.4 L86.7 373.2ZM73.5 404.4 L86.4 406.9 L83.9 419.8 L71.0 417.3ZM57.9 394.4 L70.7 391.6 L73.5 404.4 L60.7 407.2ZM83.7 394.4 L96.5 391.6 L99.3 404.4 L86.5 407.2ZM58.3 419.7 L71.1 416.9 L73.9 429.7 L61.1 432.5ZM83.7 419.5 L96.5 416.7 L99.3 429.5 L86.5 432.3ZM73.7 437.3 L86.5 440.1 L83.7 452.9 L70.9 450.1ZM73.7 463.7 L86.5 466.5 L83.7 479.3 L70.9 476.5ZM57.9 453.4 L70.7 450.6 L73.5 463.4 L60.7 466.2ZM83.9 453.4 L96.7 450.6 L99.5 463.4 L86.7 466.2Z" fill="#fff" stroke="#000" stroke-width="1.3" stroke-linejoin="miter"/>
<path d="M69.4 301.2 L64.7 307.3M95.2 301.2 L90.5 307.3M69.8 326.5 L65.1 332.6M95.2 326.3 L90.5 332.4M73.8 322.4 L80.0 317.7M73.8 355.8 L80.0 351.1M73.8 382.2 L80.0 377.5M69.4 360.6 L64.7 366.7M95.4 360.6 L90.7 366.7M60.8 403.1 L67.0 398.4M86.6 403.1 L92.8 398.4M61.2 428.4 L67.4 423.7M86.6 428.2 L92.8 423.5M82.4 407.3 L77.7 413.4M82.4 440.3 L77.7 446.4M82.4 466.7 L77.7 472.8M60.8 462.1 L67.0 457.4M86.8 462.1 L93.0 457.4" stroke="#ff0000" stroke-width="1.9" fill="none"/>
<path d="M62.0 310.8 L62.7 305.0 L67.4 308.7 ZM87.8 310.8 L88.5 305.0 L93.2 308.7 ZM62.4 336.1 L63.1 330.3 L67.8 334.0 ZM87.8 335.9 L88.5 330.1 L93.2 333.8 ZM83.6 315.0 L81.4 320.4 L77.8 315.6 ZM83.6 348.4 L81.4 353.8 L77.8 349.0 ZM83.6 374.8 L81.4 380.2 L77.8 375.4 ZM62.0 370.2 L62.7 364.4 L67.4 368.1 ZM88.0 370.2 L88.7 364.4 L93.4 368.1 ZM70.6 395.7 L68.4 401.1 L64.8 396.3 ZM96.4 395.7 L94.2 401.1 L90.6 396.3 ZM71.0 421.0 L68.8 426.4 L65.2 421.6 ZM96.4 420.8 L94.2 426.2 L90.6 421.4 ZM75.0 416.9 L75.7 411.1 L80.4 414.8 ZM75.0 449.9 L75.7 444.1 L80.4 447.8 ZM75.0 476.3 L75.7 470.5 L80.4 474.2 ZM70.6 454.7 L68.4 460.1 L64.8 455.3 ZM96.6 454.7 L94.4 460.1 L90.8 455.3 Z" fill="#ff0000"/>
<path d="M115.1 314.7 L121.9 321.6 L119.9 323.7 L127.8 323.7 L127.8 315.8 L125.8 317.8 L118.9 310.9ZM115.1 361.4 L121.9 368.3 L119.9 370.4 L127.8 370.4 L127.8 362.5 L125.8 364.5 L118.9 357.6ZM115.1 408.1 L121.9 415.0 L119.9 417.1 L127.8 417.1 L127.8 409.2 L125.8 411.2 L118.9 404.3ZM115.1 454.4 L121.9 461.3 L119.9 463.4 L127.8 463.4 L127.8 455.5 L125.8 457.5 L118.9 450.6Z" fill="#000"/>
<path d="M107.7 489.5 L124.4 506.0 L121.4 509.0 L132.4 509.0 L132.4 498.0 L129.3 501.0 L112.7 484.5Z" fill="#0000ff"/>
<g stroke-width="0.7"><path d="M228.2 320.1l3.45 -3.45l3.45 3.45l-3.45 3.45z" fill="#9fd0e4" stroke="#9fd0e4"/><path d="M224.8 323.5l3.45 -3.45l3.45 3.45l-3.45 3.45z" fill="#7db4d5" stroke="#7db4d5"/><path d="M221.4 326.9l3.45 -3.45l3.45 3.45l-3.45 3.45z" fill="#689ec9" stroke="#689ec9"/><path d="M218.0 330.3l3.45 -3.45l3.45 3.45l-3.45 3.45z" fill="#4b7cb8" stroke="#4b7cb8"/><path d="M214.6 333.7l3.45 -3.45l3.45 3.45l-3.45 3.45z" fill="#5184bc" stroke="#5184bc"/><path d="M211.2 337.1l3.45 -3.45l3.45 3.45l-3.45 3.45z" fill="#4064ac" stroke="#4064ac"/><path d="M207.8 340.5l3.45 -3.45l3.45 3.45l-3.45 3.45z" fill="#4370b1" stroke="#4370b1"/><path d="M204.4 343.9l3.45 -3.45l3.45 3.45l-3.45 3.45z" fill="#4064ac" stroke="#4064ac"/><path d="M201.0 347.3l3.45 -3.45l3.45 3.45l-3.45 3.45z" fill="#4778b5" stroke="#4778b5"/><path d="M238.4 316.7l3.45 -3.45l3.45 3.45l-3.45 3.45z" fill="#f5fbd1" stroke="#f5fbd1"/><path d="M235.0 320.1l3.45 -3.45l3.45 3.45l-3.45 3.45z" fill="#d5eef5" stroke="#d5eef5"/><path d="M231.6 323.5l3.45 -3.45l3.45 3.45l-3.45 3.45z" fill="#acdae9" stroke="#acdae9"/><path d="M228.2 326.9l3.45 -3.45l3.45 3.45l-3.45 3.45z" fill="#8dc1dc" stroke="#8dc1dc"/><path d="M224.8 330.3l3.45 -3.45l3.45 3.45l-3.45 3.45z" fill="#86bcd9" stroke="#86bcd9"/><path d="M221.4 333.7l3.45 -3.45l3.45 3.45l-3.45 3.45z" fill="#86bbd9" stroke="#86bbd9"/><path d="M218.0 337.1l3.45 -3.45l3.45 3.45l-3.45 3.45z" fill="#82b8d7" stroke="#82b8d7"/><path d="M214.6 340.5l3.45 -3.45l3.45 3.45l-3.45 3.45z" fill="#4676b5" stroke="#4676b5"/><path d="M211.2 343.9l3.45 -3.45l3.45 3.45l-3.45 3.45z" fill="#4167ad" stroke="#4167ad"/><path d="M207.8 347.3l3.45 -3.45l3.45 3.45l-3.45 3.45z" fill="#436fb1" stroke="#436fb1"/><path d="M204.4 350.7l3.45 -3.45l3.45 3.45l-3.45 3.45z" fill="#6da5cd" stroke="#6da5cd"/><path d="M201.0 354.1l3.45 -3.45l3.45 3.45l-3.45 3.45z" fill="#9dcee3" stroke="#9dcee3"/><path d="M245.2 316.7l3.45 -3.45l3.45 3.45l-3.45 3.45z" fill="#fedd8e" stroke="#fedd8e"/><path d="M241.8 320.1l3.45 -3.45l3.45 3.45l-3.45 3.45z" fill="#fee99d" stroke="#fee99d"/><path d="M238.4 323.5l3.45 -3.45l3.45 3.45l-3.45 3.45z" fill="#fdfec3" stroke="#fdfec3"/><path d="M235.0 326.9l3.45 -3.45l3.45 3.45l-3.45 3.45z" fill="#edf8e0" stroke="#edf8e0"/><path d="M231.6 330.3l3.45 -3.45l3.45 3.45l-3.45 3.45z" fill="#e0f3f8" stroke="#e0f3f8"/><path d="M228.2 333.7l3.45 -3.45l3.45 3.45l-3.45 3.45z" fill="#daf0f6" stroke="#daf0f6"/><path d="M224.8 337.1l3.45 -3.45l3.45 3.45l-3.45 3.45z" fill="#bbe1ee" stroke="#bbe1ee"/><path d="M221.4 340.5l3.45 -3.45l3.45 3.45l-3.45 3.45z" fill="#87bcd9" stroke="#87bcd9"/><path d="M218.0 343.9l3.45 -3.45l3.45 3.45l-3.45 3.45z" fill="#8ec2dd" stroke="#8ec2dd"/><path d="M214.6 347.3l3.45 -3.45l3.45 3.45l-3.45 3.45z" fill="#81b8d7" stroke="#81b8d7"/><path d="M211.2 350.7l3.45 -3.45l3.45 3.45l-3.45 3.45z" fill="#8ec2dc" stroke="#8ec2dc"/><path d="M207.8 354.1l3.45 -3.45l3.45 3.45l-3.45 3.45z" fill="#cdeaf3" stroke="#cdeaf3"/><path d="M204.4 357.5l3.45 -3.45l3.45 3.45l-3.45 3.45z" fill="#e3f4f2" stroke="#e3f4f2"/><path d="M201.0 360.9l3.45 -3.45l3.45 3.45l-3.45 3.45z" fill="#feea9f" stroke="#feea9f"/><path d="M252.0 316.7l3.45 -3.45l3.45 3.45l-3.45 3.45z" fill="#f98e52" stroke="#f98e52"/><path d="M248.6 320.1l3.45 -3.45l3.45 3.45l-3.45 3.45z" fill="#fca55d" stroke="#fca55d"/><path d="M245.2 323.5l3.45 -3.45l3.45 3.45l-3.45 3.45z" fill="#fedd8d" stroke="#fedd8d"/><path d="M241.8 326.9l3.45 -3.45l3.45 3.45l-3.45 3.45z" fill="#feea9f" stroke="#feea9f"/><path d="M238.4 330.3l3.45 -3.45l3.45 3.45l-3.45 3.45z" fill="#fee99d" stroke="#fee99d"/><path d="M235.0 333.7l3.45 -3.45l3.45 3.45l-3.45 3.45z" fill="#fed687" stroke="#fed687"/><path d="M231.6 337.1l3.45 -3.45l3.45 3.45l-3.45 3.45z" fill="#fed384" stroke="#fed384"/><path d="M228.2 340.5l3.45 -3.45l3.45 3.45l-3.45 3.45z" fill="#feeea5" stroke="#feeea5"/><path d="M224.8 343.9l3.45 -3.45l3.45 3.45l-3.45 3.45z" fill="#f6fccf" stroke="#f6fccf"/><path d="M221.4 347.3l3.45 -3.45l3.45 3.45l-3.45 3.45z" fill="#eef8de" stroke="#eef8de"/><path d="M218.0 350.7l3.45 -3.45l3.45 3.45l-3.45 3.45z" fill="#ebf7e5" stroke="#ebf7e5"/><path d="M214.6 354.1l3.45 -3.45l3.45 3.45l-3.45 3.45z" fill="#f6fccf" stroke="#f6fccf"/><path d="M211.2 357.5l3.45 -3.45l3.45 3.45l-3.45 3.45z" fill="#feeca3" stroke="#feeca3"/><path d="M207.8 360.9l3.45 -3.45l3.45 3.45l-3.45 3.45z" fill="#fee497" stroke="#fee497"/><path d="M204.4 364.3l3.45 -3.45l3.45 3.45l-3.45 3.45z" fill="#fdbb6d" stroke="#fdbb6d"/><path d="M201.0 367.7l3.45 -3.45l3.45 3.45l-3.45 3.45z" fill="#f57647" stroke="#f57647"/><path d="M262.2 313.3l3.45 -3.45l3.45 3.45l-3.45 3.45z" fill="#f7814c" stroke="#f7814c"/><path d="M258.8 316.7l3.45 -3.45l3.45 3.45l-3.45 3.45z" fill="#f46f44" stroke="#f46f44"/><path d="M255.4 320.1l3.45 -3.45l3.45 3.45l-3.45 3.45z" fill="#ee613d" stroke="#ee613d"/><path d="M252.0 323.5l3.45 -3.45l3.45 3.45l-3.45 3.45z" fill="#f16640" stroke="#f16640"/><path d="M248.6 326.9l3.45 -3.45l3.45 3.45l-3.45 3.45z" fill="#fcaa5f" stroke="#fcaa5f"/><path d="M245.2 330.3l3.45 -3.45l3.45 3.45l-3.45 3.45z" fill="#fdbe70" stroke="#fdbe70"/><path d="M241.8 333.7l3.45 -3.45l3.45 3.45l-3.45 3.45z" fill="#fdbd6f" stroke="#fdbd6f"/><path d="M238.4 337.1l3.45 -3.45l3.45 3.45l-3.45 3.45z" fill="#f67949" stroke="#f67949"/><path d="M235.0 340.5l3.45 -3.45l3.45 3.45l-3.45 3.45z" fill="#e54e35" stroke="#e54e35"/><path d="M231.6 343.9l3.45 -3.45l3.45 3.45l-3.45 3.45z" fill="#fb9c59" stroke="#fb9c59"/><path d="M228.2 347.3l3.45 -3.45l3.45 3.45l-3.45 3.45z" fill="#fed081" stroke="#fed081"/><path d="M224.8 350.7l3.45 -3.45l3.45 3.45l-3.45 3.45z" fill="#fee090" stroke="#fee090"/><path d="M221.4 354.1l3.45 -3.45l3.45 3.45l-3.45 3.45z" fill="#fed383" stroke="#fed383"/><path d="M218.0 357.5l3.45 -3.45l3.45 3.45l-3.45 3.45z" fill="#fdbc6e" stroke="#fdbc6e"/><path d="M214.6 360.9l3.45 -3.45l3.45 3.45l-3.45 3.45z" fill="#fca55d" stroke="#fca55d"/><path d="M211.2 364.3l3.45 -3.45l3.45 3.45l-3.45 3.45z" fill="#f99355" stroke="#f99355"/><path d="M207.8 367.7l3.45 -3.45l3.45 3.45l-3.45 3.45z" fill="#f98f53" stroke="#f98f53"/><path d="M204.4 371.1l3.45 -3.45l3.45 3.45l-3.45 3.45z" fill="#fa9b58" stroke="#fa9b58"/><path d="M268.9 313.3l3.45 -3.45l3.45 3.45l-3.45 3.45z" fill="#fa9857" stroke="#fa9857"/><path d="M265.6 316.7l3.45 -3.45l3.45 3.45l-3.45 3.45z" fill="#f06640" stroke="#f06640"/><path d="M262.2 320.1l3.45 -3.45l3.45 3.45l-3.45 3.45z" fill="#ec5c3b" stroke="#ec5c3b"/><path d="M258.8 323.5l3.45 -3.45l3.45 3.45l-3.45 3.45z" fill="#ea593a" stroke="#ea593a"/><path d="M255.4 326.9l3.45 -3.45l3.45 3.45l-3.45 3.45z" fill="#dd3c2c" stroke="#dd3c2c"/><path d="M252.0 330.3l3.45 -3.45l3.45 3.45l-3.45 3.45z" fill="#d52e27" stroke="#d52e27"/><path d="M248.6 333.7l3.45 -3.45l3.45 3.45l-3.45 3.45z" fill="#f16841" stroke="#f16841"/><path d="M245.2 337.1l3.45 -3.45l3.45 3.45l-3.45 3.45z" fill="#f88c51" stroke="#f88c51"/><path d="M241.8 340.5l3.45 -3.45l3.45 3.45l-3.45 3.45z" fill="#e44c34" stroke="#e44c34"/><path d="M238.4 343.9l3.45 -3.45l3.45 3.45l-3.45 3.45z" fill="#d83228" stroke="#d83228"/><path d="M235.0 347.3l3.45 -3.45l3.45 3.45l-3.45 3.45z" fill="#f46c43" stroke="#f46c43"/><path d="M231.6 350.7l3.45 -3.45l3.45 3.45l-3.45 3.45z" fill="#fdb063" stroke="#fdb063"/><path d="M228.2 354.1l3.45 -3.45l3.45 3.45l-3.45 3.45z" fill="#fb9f5a" stroke="#fb9f5a"/><path d="M224.8 357.5l3.45 -3.45l3.45 3.45l-3.45 3.45z" fill="#f7844e" stroke="#f7844e"/><path d="M221.4 360.9l3.45 -3.45l3.45 3.45l-3.45 3.45z" fill="#f16841" stroke="#f16841"/><path d="M218.0 364.3l3.45 -3.45l3.45 3.45l-3.45 3.45z" fill="#ed5f3d" stroke="#ed5f3d"/><path d="M214.6 367.7l3.45 -3.45l3.45 3.45l-3.45 3.45z" fill="#ed5d3c" stroke="#ed5d3c"/><path d="M211.2 371.1l3.45 -3.45l3.45 3.45l-3.45 3.45z" fill="#e75237" stroke="#e75237"/><path d="M207.8 374.5l3.45 -3.45l3.45 3.45l-3.45 3.45z" fill="#f67e4b" stroke="#f67e4b"/><path d="M275.8 313.3l3.45 -3.45l3.45 3.45l-3.45 3.45z" fill="#fdbc6e" stroke="#fdbc6e"/><path d="M272.4 316.7l3.45 -3.45l3.45 3.45l-3.45 3.45z" fill="#f88850" stroke="#f88850"/><path d="M268.9 320.1l3.45 -3.45l3.45 3.45l-3.45 3.45z" fill="#eb5a3a" stroke="#eb5a3a"/><path d="M265.6 323.5l3.45 -3.45l3.45 3.45l-3.45 3.45z" fill="#ea5739" stroke="#ea5739"/><path d="M262.2 326.9l3.45 -3.45l3.45 3.45l-3.45 3.45z" fill="#e34933" stroke="#e34933"/><path d="M258.8 330.3l3.45 -3.45l3.45 3.45l-3.45 3.45z" fill="#d73027" stroke="#d73027"/><path d="M255.4 333.7l3.45 -3.45l3.45 3.45l-3.45 3.45z" fill="#d12a27" stroke="#d12a27"/><path d="M252.0 337.1l3.45 -3.45l3.45 3.45l-3.45 3.45z" fill="#e34932" stroke="#e34932"/><path d="M248.6 340.5l3.45 -3.45l3.45 3.45l-3.45 3.45z" fill="#ed5e3c" stroke="#ed5e3c"/><path d="M245.2 343.9l3.45 -3.45l3.45 3.45l-3.45 3.45z" fill="#e24631" stroke="#e24631"/><path d="M241.8 347.3l3.45 -3.45l3.45 3.45l-3.45 3.45z" fill="#dc3b2c" stroke="#dc3b2c"/><path d="M238.4 350.7l3.45 -3.45l3.45 3.45l-3.45 3.45z" fill="#eb5b3b" stroke="#eb5b3b"/><path d="M235.0 354.1l3.45 -3.45l3.45 3.45l-3.45 3.45z" fill="#f67f4b" stroke="#f67f4b"/><path d="M231.6 357.5l3.45 -3.45l3.45 3.45l-3.45 3.45z" fill="#f26841" stroke="#f26841"/><path d="M228.2 360.9l3.45 -3.45l3.45 3.45l-3.45 3.45z" fill="#de3f2e" stroke="#de3f2e"/><path d="M224.8 364.3l3.45 -3.45l3.45 3.45l-3.45 3.45z" fill="#db382b" stroke="#db382b"/><path d="M221.4 367.7l3.45 -3.45l3.45 3.45l-3.45 3.45z" fill="#e34932" stroke="#e34932"/><path d="M218.0 371.1l3.45 -3.45l3.45 3.45l-3.45 3.45z" fill="#e14430" stroke="#e14430"/><path d="M214.6 374.5l3.45 -3.45l3.45 3.45l-3.45 3.45z" fill="#dc3a2c" stroke="#dc3a2c"/><path d="M211.2 377.9l3.45 -3.45l3.45 3.45l-3.45 3.45z" fill="#eb593a" stroke="#eb593a"/><path d="M279.2 316.7l3.45 -3.45l3.45 3.45l-3.45 3.45z" fill="#fba05b" stroke="#fba05b"/><path d="M275.8 320.1l3.45 -3.45l3.45 3.45l-3.45 3.45z" fill="#f67c4a" stroke="#f67c4a"/><path d="M272.4 323.5l3.45 -3.45l3.45 3.45l-3.45 3.45z" fill="#e65036" stroke="#e65036"/><path d="M268.9 326.9l3.45 -3.45l3.45 3.45l-3.45 3.45z" fill="#df412f" stroke="#df412f"/><path d="M265.6 330.3l3.45 -3.45l3.45 3.45l-3.45 3.45z" fill="#d73127" stroke="#d73127"/><path d="M262.2 333.7l3.45 -3.45l3.45 3.45l-3.45 3.45z" fill="#d73027" stroke="#d73027"/><path d="M258.8 337.1l3.45 -3.45l3.45 3.45l-3.45 3.45z" fill="#d83228" stroke="#d83228"/><path d="M255.4 340.5l3.45 -3.45l3.45 3.45l-3.45 3.45z" fill="#df422f" stroke="#df422f"/><path d="M252.0 343.9l3.45 -3.45l3.45 3.45l-3.45 3.45z" fill="#de3f2e" stroke="#de3f2e"/><path d="M248.6 347.3l3.45 -3.45l3.45 3.45l-3.45 3.45z" fill="#d83228" stroke="#d83228"/><path d="M245.2 350.7l3.45 -3.45l3.45 3.45l-3.45 3.45z" fill="#db392b" stroke="#db392b"/><path d="M241.8 354.1l3.45 -3.45l3.45 3.45l-3.45 3.45z" fill="#e44a33" stroke="#e44a33"/><path d="M238.4 357.5l3.45 -3.45l3.45 3.45l-3.45 3.45z" fill="#e95538" stroke="#e95538"/><path d="M235.0 360.9l3.45 -3.45l3.45 3.45l-3.45 3.45z" fill="#e44c34" stroke="#e44c34"/><path d="M231.6 364.3l3.45 -3.45l3.45 3.45l-3.45 3.45z" fill="#d73027" stroke="#d73027"/><path d="M228.2 367.7l3.45 -3.45l3.45 3.45l-3.45 3.45z" fill="#d32c27" stroke="#d32c27"/><path d="M224.8 371.1l3.45 -3.45l3.45 3.45l-3.45 3.45z" fill="#d93529" stroke="#d93529"/><path d="M221.4 374.5l3.45 -3.45l3.45 3.45l-3.45 3.45z" fill="#d73027" stroke="#d73027"/><path d="M218.0 377.9l3.45 -3.45l3.45 3.45l-3.45 3.45z" fill="#dd3d2d" stroke="#dd3d2d"/><path d="M214.6 381.3l3.45 -3.45l3.45 3.45l-3.45 3.45z" fill="#ef623e" stroke="#ef623e"/><path d="M282.6 320.1l3.45 -3.45l3.45 3.45l-3.45 3.45z" fill="#f7804c" stroke="#f7804c"/><path d="M279.2 323.5l3.45 -3.45l3.45 3.45l-3.45 3.45z" fill="#eb593a" stroke="#eb593a"/><path d="M275.8 326.9l3.45 -3.45l3.45 3.45l-3.45 3.45z" fill="#e54e35" stroke="#e54e35"/><path d="M272.4 330.3l3.45 -3.45l3.45 3.45l-3.45 3.45z" fill="#de402e" stroke="#de402e"/><path d="M268.9 333.7l3.45 -3.45l3.45 3.45l-3.45 3.45z" fill="#d83127" stroke="#d83127"/><path d="M265.6 337.1l3.45 -3.45l3.45 3.45l-3.45 3.45z" fill="#d83328" stroke="#d83328"/><path d="M262.2 340.5l3.45 -3.45l3.45 3.45l-3.45 3.45z" fill="#d62f27" stroke="#d62f27"/><path d="M258.8 343.9l3.45 -3.45l3.45 3.45l-3.45 3.45z" fill="#d93429" stroke="#d93429"/><path d="M255.4 347.3l3.45 -3.45l3.45 3.45l-3.45 3.45z" fill="#d83328" stroke="#d83328"/><path d="M252.0 350.7l3.45 -3.45l3.45 3.45l-3.45 3.45z" fill="#d73127" stroke="#d73127"/><path d="M248.6 354.1l3.45 -3.45l3.45 3.45l-3.45 3.45z" fill="#d52e27" stroke="#d52e27"/><path d="M245.2 357.5l3.45 -3.45l3.45 3.45l-3.45 3.45z" fill="#db392b" stroke="#db392b"/><path d="M241.8 360.9l3.45 -3.45l3.45 3.45l-3.45 3.45z" fill="#de3f2e" stroke="#de3f2e"/><path d="M238.4 364.3l3.45 -3.45l3.45 3.45l-3.45 3.45z" fill="#dc3a2b" stroke="#dc3a2b"/><path d="M235.0 367.7l3.45 -3.45l3.45 3.45l-3.45 3.45z" fill="#d52e27" stroke="#d52e27"/><path d="M231.6 371.1l3.45 -3.45l3.45 3.45l-3.45 3.45z" fill="#d42d27" stroke="#d42d27"/><path d="M228.2 374.5l3.45 -3.45l3.45 3.45l-3.45 3.45z" fill="#d42e27" stroke="#d42e27"/><path d="M224.8 377.9l3.45 -3.45l3.45 3.45l-3.45 3.45z" fill="#d52e27" stroke="#d52e27"/><path d="M221.4 381.3l3.45 -3.45l3.45 3.45l-3.45 3.45z" fill="#dc3a2c" stroke="#dc3a2c"/><path d="M218.0 384.7l3.45 -3.45l3.45 3.45l-3.45 3.45z" fill="#f36b42" stroke="#f36b42"/><path d="M289.4 320.1l3.45 -3.45l3.45 3.45l-3.45 3.45z" fill="#fa9957" stroke="#fa9957"/><path d="M285.9 323.5l3.45 -3.45l3.45 3.45l-3.45 3.45z" fill="#f26841" stroke="#f26841"/><path d="M282.6 326.9l3.45 -3.45l3.45 3.45l-3.45 3.45z" fill="#e24732" stroke="#e24732"/><path d="M279.2 330.3l3.45 -3.45l3.45 3.45l-3.45 3.45z" fill="#da362a" stroke="#da362a"/><path d="M275.8 333.7l3.45 -3.45l3.45 3.45l-3.45 3.45z" fill="#d93429" stroke="#d93429"/><path d="M272.4 337.1l3.45 -3.45l3.45 3.45l-3.45 3.45z" fill="#da372a" stroke="#da372a"/><path d="M268.9 340.5l3.45 -3.45l3.45 3.45l-3.45 3.45z" fill="#da362a" stroke="#da362a"/><path d="M265.6 343.9l3.45 -3.45l3.45 3.45l-3.45 3.45z" fill="#d32c27" stroke="#d32c27"/><path d="M262.2 347.3l3.45 -3.45l3.45 3.45l-3.45 3.45z" fill="#d83128" stroke="#d83128"/><path d="M258.8 350.7l3.45 -3.45l3.45 3.45l-3.45 3.45z" fill="#d52e27" stroke="#d52e27"/><path d="M255.4 354.1l3.45 -3.45l3.45 3.45l-3.45 3.45z" fill="#d22c27" stroke="#d22c27"/><path d="M252.0 357.5l3.45 -3.45l3.45 3.45l-3.45 3.45z" fill="#d93529" stroke="#d93529"/><path d="M248.6 360.9l3.45 -3.45l3.45 3.45l-3.45 3.45z" fill="#d83228" stroke="#d83228"/><path d="M245.2 364.3l3.45 -3.45l3.45 3.45l-3.45 3.45z" fill="#d83328" stroke="#d83328"/><path d="M241.8 367.7l3.45 -3.45l3.45 3.45l-3.45 3.45z" fill="#d73127" stroke="#d73127"/><path d="M238.4 371.1l3.45 -3.45l3.45 3.45l-3.45 3.45z" fill="#d42d27" stroke="#d42d27"/><path d="M235.0 374.5l3.45 -3.45l3.45 3.45l-3.45 3.45z" fill="#d12a27" stroke="#d12a27"/><path d="M231.6 377.9l3.45 -3.45l3.45 3.45l-3.45 3.45z" fill="#cf2927" stroke="#cf2927"/><path d="M228.2 381.3l3.45 -3.45l3.45 3.45l-3.45 3.45z" fill="#d83128" stroke="#d83128"/><path d="M224.8 384.7l3.45 -3.45l3.45 3.45l-3.45 3.45z" fill="#de3f2e" stroke="#de3f2e"/><path d="M221.4 388.1l3.45 -3.45l3.45 3.45l-3.45 3.45z" fill="#f16740" stroke="#f16740"/><path d="M292.8 323.5l3.45 -3.45l3.45 3.45l-3.45 3.45z" fill="#f7804c" stroke="#f7804c"/><path d="M289.4 326.9l3.45 -3.45l3.45 3.45l-3.45 3.45z" fill="#ec5c3b" stroke="#ec5c3b"/><path d="M285.9 330.3l3.45 -3.45l3.45 3.45l-3.45 3.45z" fill="#dd3d2d" stroke="#dd3d2d"/><path d="M282.6 333.7l3.45 -3.45l3.45 3.45l-3.45 3.45z" fill="#d83128" stroke="#d83128"/><path d="M279.2 337.1l3.45 -3.45l3.45 3.45l-3.45 3.45z" fill="#d93328" stroke="#d93328"/><path d="M275.8 340.5l3.45 -3.45l3.45 3.45l-3.45 3.45z" fill="#da362a" stroke="#da362a"/><path d="M272.4 343.9l3.45 -3.45l3.45 3.45l-3.45 3.45z" fill="#da362a" stroke="#da362a"/><path d="M268.9 347.3l3.45 -3.45l3.45 3.45l-3.45 3.45z" fill="#da372a" stroke="#da372a"/><path d="M265.6 350.7l3.45 -3.45l3.45 3.45l-3.45 3.45z" fill="#da372a" stroke="#da372a"/><path d="M262.2 354.1l3.45 -3.45l3.45 3.45l-3.45 3.45z" fill="#db382b" stroke="#db382b"/><path d="M258.8 357.5l3.45 -3.45l3.45 3.45l-3.45 3.45z" fill="#d93429" stroke="#d93429"/><path d="M255.4 360.9l3.45 -3.45l3.45 3.45l-3.45 3.45z" fill="#d93529" stroke="#d93529"/><path d="M252.0 364.3l3.45 -3.45l3.45 3.45l-3.45 3.45z" fill="#d83328" stroke="#d83328"/><path d="M248.6 367.7l3.45 -3.45l3.45 3.45l-3.45 3.45z" fill="#dc3b2c" stroke="#dc3b2c"/><path d="M245.2 371.1l3.45 -3.45l3.45 3.45l-3.45 3.45z" fill="#d83228" stroke="#d83228"/><path d="M241.8 374.5l3.45 -3.45l3.45 3.45l-3.45 3.45z" fill="#da362a" stroke="#da362a"/><path d="M238.4 377.9l3.45 -3.45l3.45 3.45l-3.45 3.45z" fill="#d73027" stroke="#d73027"/><path d="M235.0 381.3l3.45 -3.45l3.45 3.45l-3.45 3.45z" fill="#d22b27" stroke="#d22b27"/><path d="M231.6 384.7l3.45 -3.45l3.45 3.45l-3.45 3.45z" fill="#d73127" stroke="#d73127"/><path d="M228.2 388.1l3.45 -3.45l3.45 3.45l-3.45 3.45z" fill="#df422f" stroke="#df422f"/><path d="M224.8 391.5l3.45 -3.45l3.45 3.45l-3.45 3.45z" fill="#f16740" stroke="#f16740"/><path d="M296.2 326.9l3.45 -3.45l3.45 3.45l-3.45 3.45z" fill="#f57848" stroke="#f57848"/><path d="M292.8 330.3l3.45 -3.45l3.45 3.45l-3.45 3.45z" fill="#e75236" stroke="#e75236"/><path d="M289.4 333.7l3.45 -3.45l3.45 3.45l-3.45 3.45z" fill="#d93329" stroke="#d93329"/><path d="M285.9 337.1l3.45 -3.45l3.45 3.45l-3.45 3.45z" fill="#d73127" stroke="#d73127"/><path d="M282.6 340.5l3.45 -3.45l3.45 3.45l-3.45 3.45z" fill="#da362a" stroke="#da362a"/><path d="M279.2 343.9l3.45 -3.45l3.45 3.45l-3.45 3.45z" fill="#d93529" stroke="#d93529"/><path d="M275.8 347.3l3.45 -3.45l3.45 3.45l-3.45 3.45z" fill="#dd3c2c" stroke="#dd3c2c"/><path d="M272.4 350.7l3.45 -3.45l3.45 3.45l-3.45 3.45z" fill="#d73027" stroke="#d73027"/><path d="M268.9 354.1l3.45 -3.45l3.45 3.45l-3.45 3.45z" fill="#de3e2d" stroke="#de3e2d"/><path d="M265.6 357.5l3.45 -3.45l3.45 3.45l-3.45 3.45z" fill="#da372a" stroke="#da372a"/><path d="M262.2 360.9l3.45 -3.45l3.45 3.45l-3.45 3.45z" fill="#da372a" stroke="#da372a"/><path d="M258.8 364.3l3.45 -3.45l3.45 3.45l-3.45 3.45z" fill="#de3e2e" stroke="#de3e2e"/><path d="M255.4 367.7l3.45 -3.45l3.45 3.45l-3.45 3.45z" fill="#da372a" stroke="#da372a"/><path d="M252.0 371.1l3.45 -3.45l3.45 3.45l-3.45 3.45z" fill="#d93429" stroke="#d93429"/><path d="M248.6 374.5l3.45 -3.45l3.45 3.45l-3.45 3.45z" fill="#d93529" stroke="#d93529"/><path d="M245.2 377.9l3.45 -3.45l3.45 3.45l-3.45 3.45z" fill="#d83228" stroke="#d83228"/><path d="M241.8 381.3l3.45 -3.45l3.45 3.45l-3.45 3.45z" fill="#d22b27" stroke="#d22b27"/><path d="M238.4 384.7l3.45 -3.45l3.45 3.45l-3.45 3.45z" fill="#d22b27" stroke="#d22b27"/><path d="M235.0 388.1l3.45 -3.45l3.45 3.45l-3.45 3.45z" fill="#d73027" stroke="#d73027"/><path d="M231.6 391.5l3.45 -3.45l3.45 3.45l-3.45 3.45z" fill="#e24732" stroke="#e24732"/><path d="M228.2 394.9l3.45 -3.45l3.45 3.45l-3.45 3.45z" fill="#f16640" stroke="#f16640"/><path d="M299.6 330.3l3.45 -3.45l3.45 3.45l-3.45 3.45z" fill="#f46f44" stroke="#f46f44"/><path d="M296.2 333.7l3.45 -3.45l3.45 3.45l-3.45 3.45z" fill="#e14631" stroke="#e14631"/><path d="M292.8 337.1l3.45 -3.45l3.45 3.45l-3.45 3.45z" fill="#db382a" stroke="#db382a"/><path d="M289.4 340.5l3.45 -3.45l3.45 3.45l-3.45 3.45z" fill="#d83328" stroke="#d83328"/><path d="M285.9 343.9l3.45 -3.45l3.45 3.45l-3.45 3.45z" fill="#d52e27" stroke="#d52e27"/><path d="M282.6 347.3l3.45 -3.45l3.45 3.45l-3.45 3.45z" fill="#d32c27" stroke="#d32c27"/><path d="M279.2 350.7l3.45 -3.45l3.45 3.45l-3.45 3.45z" fill="#d73027" stroke="#d73027"/><path d="M275.8 354.1l3.45 -3.45l3.45 3.45l-3.45 3.45z" fill="#db392b" stroke="#db392b"/><path d="M272.4 357.5l3.45 -3.45l3.45 3.45l-3.45 3.45z" fill="#da362a" stroke="#da362a"/><path d="M268.9 360.9l3.45 -3.45l3.45 3.45l-3.45 3.45z" fill="#dd3c2d" stroke="#dd3c2d"/><path d="M265.6 364.3l3.45 -3.45l3.45 3.45l-3.45 3.45z" fill="#dd3c2c" stroke="#dd3c2c"/><path d="M262.2 367.7l3.45 -3.45l3.45 3.45l-3.45 3.45z" fill="#dc3b2c" stroke="#dc3b2c"/><path d="M258.8 371.1l3.45 -3.45l3.45 3.45l-3.45 3.45z" fill="#e04430" stroke="#e04430"/><path d="M255.4 374.5l3.45 -3.45l3.45 3.45l-3.45 3.45z" fill="#db392b" stroke="#db392b"/><path d="M252.0 377.9l3.45 -3.45l3.45 3.45l-3.45 3.45z" fill="#dc3b2c" stroke="#dc3b2c"/><path d="M248.6 381.3l3.45 -3.45l3.45 3.45l-3.45 3.45z" fill="#d93529" stroke="#d93529"/><path d="M245.2 384.7l3.45 -3.45l3.45 3.45l-3.45 3.45z" fill="#d83328" stroke="#d83328"/><path d="M241.8 388.1l3.45 -3.45l3.45 3.45l-3.45 3.45z" fill="#d83228" stroke="#d83228"/><path d="M238.4 391.5l3.45 -3.45l3.45 3.45l-3.45 3.45z" fill="#da372a" stroke="#da372a"/><path d="M235.0 394.9l3.45 -3.45l3.45 3.45l-3.45 3.45z" fill="#e24731" stroke="#e24731"/><path d="M231.6 398.3l3.45 -3.45l3.45 3.45l-3.45 3.45z" fill="#f26a42" stroke="#f26a42"/><path d="M302.9 333.7l3.45 -3.45l3.45 3.45l-3.45 3.45z" fill="#f46d43" stroke="#f46d43"/><path d="M299.6 337.1l3.45 -3.45l3.45 3.45l-3.45 3.45z" fill="#e34933" stroke="#e34933"/><path d="M296.2 340.5l3.45 -3.45l3.45 3.45l-3.45 3.45z" fill="#dc3a2c" stroke="#dc3a2c"/><path d="M292.8 343.9l3.45 -3.45l3.45 3.45l-3.45 3.45z" fill="#da372a" stroke="#da372a"/><path d="M289.4 347.3l3.45 -3.45l3.45 3.45l-3.45 3.45z" fill="#d42e27" stroke="#d42e27"/><path d="M285.9 350.7l3.45 -3.45l3.45 3.45l-3.45 3.45z" fill="#d52e27" stroke="#d52e27"/><path d="M282.6 354.1l3.45 -3.45l3.45 3.45l-3.45 3.45z" fill="#d93429" stroke="#d93429"/><path d="M279.2 357.5l3.45 -3.45l3.45 3.45l-3.45 3.45z" fill="#d93429" stroke="#d93429"/><path d="M275.8 360.9l3.45 -3.45l3.45 3.45l-3.45 3.45z" fill="#da362a" stroke="#da362a"/><path d="M272.4 364.3l3.45 -3.45l3.45 3.45l-3.45 3.45z" fill="#de3e2d" stroke="#de3e2d"/><path d="M268.9 367.7l3.45 -3.45l3.45 3.45l-3.45 3.45z" fill="#df412f" stroke="#df412f"/><path d="M265.6 371.1l3.45 -3.45l3.45 3.45l-3.45 3.45z" fill="#dd3c2d" stroke="#dd3c2d"/><path d="M262.2 374.5l3.45 -3.45l3.45 3.45l-3.45 3.45z" fill="#dc3c2c" stroke="#dc3c2c"/><path d="M258.8 377.9l3.45 -3.45l3.45 3.45l-3.45 3.45z" fill="#dc3a2c" stroke="#dc3a2c"/><path d="M255.4 381.3l3.45 -3.45l3.45 3.45l-3.45 3.45z" fill="#d83228" stroke="#d83228"/><path d="M252.0 384.7l3.45 -3.45l3.45 3.45l-3.45 3.45z" fill="#d22b27" stroke="#d22b27"/><path d="M248.6 388.1l3.45 -3.45l3.45 3.45l-3.45 3.45z" fill="#d62f27" stroke="#d62f27"/><path d="M245.2 391.5l3.45 -3.45l3.45 3.45l-3.45 3.45z" fill="#d42d27" stroke="#d42d27"/><path d="M241.8 394.9l3.45 -3.45l3.45 3.45l-3.45 3.45z" fill="#da362a" stroke="#da362a"/><path d="M238.4 398.3l3.45 -3.45l3.45 3.45l-3.45 3.45z" fill="#e64f35" stroke="#e64f35"/><path d="M235.0 401.7l3.45 -3.45l3.45 3.45l-3.45 3.45z" fill="#f57245" stroke="#f57245"/><path d="M306.4 337.1l3.45 -3.45l3.45 3.45l-3.45 3.45z" fill="#f57145" stroke="#f57145"/><path d="M302.9 340.5l3.45 -3.45l3.45 3.45l-3.45 3.45z" fill="#e54d34" stroke="#e54d34"/><path d="M299.6 343.9l3.45 -3.45l3.45 3.45l-3.45 3.45z" fill="#d83228" stroke="#d83228"/><path d="M296.2 347.3l3.45 -3.45l3.45 3.45l-3.45 3.45z" fill="#d42d27" stroke="#d42d27"/><path d="M292.8 350.7l3.45 -3.45l3.45 3.45l-3.45 3.45z" fill="#d62f27" stroke="#d62f27"/><path d="M289.4 354.1l3.45 -3.45l3.45 3.45l-3.45 3.45z" fill="#d42d27" stroke="#d42d27"/><path d="M285.9 357.5l3.45 -3.45l3.45 3.45l-3.45 3.45z" fill="#d42d27" stroke="#d42d27"/><path d="M282.6 360.9l3.45 -3.45l3.45 3.45l-3.45 3.45z" fill="#d83328" stroke="#d83328"/><path d="M279.2 364.3l3.45 -3.45l3.45 3.45l-3.45 3.45z" fill="#db392b" stroke="#db392b"/><path d="M275.8 367.7l3.45 -3.45l3.45 3.45l-3.45 3.45z" fill="#d83328" stroke="#d83328"/><path d="M272.4 371.1l3.45 -3.45l3.45 3.45l-3.45 3.45z" fill="#de3f2e" stroke="#de3f2e"/><path d="M268.9 374.5l3.45 -3.45l3.45 3.45l-3.45 3.45z" fill="#db382b" stroke="#db382b"/><path d="M265.6 377.9l3.45 -3.45l3.45 3.45l-3.45 3.45z" fill="#db392b" stroke="#db392b"/><path d="M262.2 381.3l3.45 -3.45l3.45 3.45l-3.45 3.45z" fill="#dc3b2c" stroke="#dc3b2c"/><path d="M258.8 384.7l3.45 -3.45l3.45 3.45l-3.45 3.45z" fill="#d62f27" stroke="#d62f27"/><path d="M255.4 388.1l3.45 -3.45l3.45 3.45l-3.45 3.45z" fill="#d52e27" stroke="#d52e27"/><path d="M252.0 391.5l3.45 -3.45l3.45 3.45l-3.45 3.45z" fill="#d83228" stroke="#d83228"/><path d="M248.6 394.9l3.45 -3.45l3.45 3.45l-3.45 3.45z" fill="#d73027" stroke="#d73027"/><path d="M245.2 398.3l3.45 -3.45l3.45 3.45l-3.45 3.45z" fill="#e0422f" stroke="#e0422f"/><path d="M241.8 401.7l3.45 -3.45l3.45 3.45l-3.45 3.45z" fill="#ef623e" stroke="#ef623e"/><path d="M238.4 405.1l3.45 -3.45l3.45 3.45l-3.45 3.45z" fill="#f7804c" stroke="#f7804c"/><path d="M309.8 340.5l3.45 -3.45l3.45 3.45l-3.45 3.45z" fill="#f26841" stroke="#f26841"/><path d="M306.4 343.9l3.45 -3.45l3.45 3.45l-3.45 3.45z" fill="#e24832" stroke="#e24832"/><path d="M302.9 347.3l3.45 -3.45l3.45 3.45l-3.45 3.45z" fill="#d93529" stroke="#d93529"/><path d="M299.6 350.7l3.45 -3.45l3.45 3.45l-3.45 3.45z" fill="#d42d27" stroke="#d42d27"/><path d="M296.2 354.1l3.45 -3.45l3.45 3.45l-3.45 3.45z" fill="#d32c27" stroke="#d32c27"/><path d="M292.8 357.5l3.45 -3.45l3.45 3.45l-3.45 3.45z" fill="#d73027" stroke="#d73027"/><path d="M289.4 360.9l3.45 -3.45l3.45 3.45l-3.45 3.45z" fill="#d52e27" stroke="#d52e27"/><path d="M285.9 364.3l3.45 -3.45l3.45 3.45l-3.45 3.45z" fill="#d93329" stroke="#d93329"/><path d="M282.6 367.7l3.45 -3.45l3.45 3.45l-3.45 3.45z" fill="#d93429" stroke="#d93429"/><path d="M279.2 371.1l3.45 -3.45l3.45 3.45l-3.45 3.45z" fill="#d93529" stroke="#d93529"/><path d="M275.8 374.5l3.45 -3.45l3.45 3.45l-3.45 3.45z" fill="#dc3b2c" stroke="#dc3b2c"/><path d="M272.4 377.9l3.45 -3.45l3.45 3.45l-3.45 3.45z" fill="#db392b" stroke="#db392b"/><path d="M268.9 381.3l3.45 -3.45l3.45 3.45l-3.45 3.45z" fill="#d73027" stroke="#d73027"/><path d="M265.6 384.7l3.45 -3.45l3.45 3.45l-3.45 3.45z" fill="#d83228" stroke="#d83228"/><path d="M262.2 388.1l3.45 -3.45l3.45 3.45l-3.45 3.45z" fill="#d83128" stroke="#d83128"/><path d="M258.8 391.5l3.45 -3.45l3.45 3.45l-3.45 3.45z" fill="#d42d27" stroke="#d42d27"/><path d="M255.4 394.9l3.45 -3.45l3.45 3.45l-3.45 3.45z" fill="#d73027" stroke="#d73027"/><path d="M252.0 398.3l3.45 -3.45l3.45 3.45l-3.45 3.45z" fill="#d93329" stroke="#d93329"/><path d="M248.6 401.7l3.45 -3.45l3.45 3.45l-3.45 3.45z" fill="#e24832" stroke="#e24832"/><path d="M245.2 405.1l3.45 -3.45l3.45 3.45l-3.45 3.45z" fill="#ee603d" stroke="#ee603d"/><path d="M241.8 408.5l3.45 -3.45l3.45 3.45l-3.45 3.45z" fill="#f88a50" stroke="#f88a50"/><path d="M313.2 343.9l3.45 -3.45l3.45 3.45l-3.45 3.45z" fill="#ed5d3c" stroke="#ed5d3c"/><path d="M309.8 347.3l3.45 -3.45l3.45 3.45l-3.45 3.45z" fill="#e04330" stroke="#e04330"/><path d="M306.4 350.7l3.45 -3.45l3.45 3.45l-3.45 3.45z" fill="#da3529" stroke="#da3529"/><path d="M302.9 354.1l3.45 -3.45l3.45 3.45l-3.45 3.45z" fill="#d32c27" stroke="#d32c27"/><path d="M299.6 357.5l3.45 -3.45l3.45 3.45l-3.45 3.45z" fill="#d52e27" stroke="#d52e27"/><path d="M296.2 360.9l3.45 -3.45l3.45 3.45l-3.45 3.45z" fill="#d73027" stroke="#d73027"/><path d="M292.8 364.3l3.45 -3.45l3.45 3.45l-3.45 3.45z" fill="#da372a" stroke="#da372a"/><path d="M289.4 367.7l3.45 -3.45l3.45 3.45l-3.45 3.45z" fill="#d83328" stroke="#d83328"/><path d="M285.9 371.1l3.45 -3.45l3.45 3.45l-3.45 3.45z" fill="#d02927" stroke="#d02927"/><path d="M282.6 374.5l3.45 -3.45l3.45 3.45l-3.45 3.45z" fill="#dc3a2c" stroke="#dc3a2c"/><path d="M279.2 377.9l3.45 -3.45l3.45 3.45l-3.45 3.45z" fill="#d93328" stroke="#d93328"/><path d="M275.8 381.3l3.45 -3.45l3.45 3.45l-3.45 3.45z" fill="#d93529" stroke="#d93529"/><path d="M272.4 384.7l3.45 -3.45l3.45 3.45l-3.45 3.45z" fill="#d83228" stroke="#d83228"/><path d="M268.9 388.1l3.45 -3.45l3.45 3.45l-3.45 3.45z" fill="#db382b" stroke="#db382b"/><path d="M265.6 391.5l3.45 -3.45l3.45 3.45l-3.45 3.45z" fill="#d93329" stroke="#d93329"/><path d="M262.2 394.9l3.45 -3.45l3.45 3.45l-3.45 3.45z" fill="#d32c27" stroke="#d32c27"/><path d="M258.8 398.3l3.45 -3.45l3.45 3.45l-3.45 3.45z" fill="#d62f27" stroke="#d62f27"/><path d="M255.4 401.7l3.45 -3.45l3.45 3.45l-3.45 3.45z" fill="#d73127" stroke="#d73127"/><path d="M252.0 405.1l3.45 -3.45l3.45 3.45l-3.45 3.45z" fill="#e44b33" stroke="#e44b33"/><path d="M248.6 408.5l3.45 -3.45l3.45 3.45l-3.45 3.45z" fill="#f0643f" stroke="#f0643f"/><path d="M245.2 411.9l3.45 -3.45l3.45 3.45l-3.45 3.45z" fill="#f67c4a" stroke="#f67c4a"/><path d="M316.6 347.3l3.45 -3.45l3.45 3.45l-3.45 3.45z" fill="#f36b42" stroke="#f36b42"/><path d="M313.2 350.7l3.45 -3.45l3.45 3.45l-3.45 3.45z" fill="#e14631" stroke="#e14631"/><path d="M309.8 354.1l3.45 -3.45l3.45 3.45l-3.45 3.45z" fill="#d83228" stroke="#d83228"/><path d="M306.4 357.5l3.45 -3.45l3.45 3.45l-3.45 3.45z" fill="#d52e27" stroke="#d52e27"/><path d="M302.9 360.9l3.45 -3.45l3.45 3.45l-3.45 3.45z" fill="#d32c27" stroke="#d32c27"/><path d="M299.6 364.3l3.45 -3.45l3.45 3.45l-3.45 3.45z" fill="#d73127" stroke="#d73127"/><path d="M296.2 367.7l3.45 -3.45l3.45 3.45l-3.45 3.45z" fill="#da372a" stroke="#da372a"/><path d="M292.8 371.1l3.45 -3.45l3.45 3.45l-3.45 3.45z" fill="#d93429" stroke="#d93429"/><path d="M289.4 374.5l3.45 -3.45l3.45 3.45l-3.45 3.45z" fill="#d32c27" stroke="#d32c27"/><path d="M285.9 377.9l3.45 -3.45l3.45 3.45l-3.45 3.45z" fill="#d62f27" stroke="#d62f27"/><path d="M282.6 381.3l3.45 -3.45l3.45 3.45l-3.45 3.45z" fill="#dd3d2d" stroke="#dd3d2d"/><path d="M279.2 384.7l3.45 -3.45l3.45 3.45l-3.45 3.45z" fill="#d83128" stroke="#d83128"/><path d="M275.8 388.1l3.45 -3.45l3.45 3.45l-3.45 3.45z" fill="#d93329" stroke="#d93329"/><path d="M272.4 391.5l3.45 -3.45l3.45 3.45l-3.45 3.45z" fill="#d52e27" stroke="#d52e27"/><path d="M268.9 394.9l3.45 -3.45l3.45 3.45l-3.45 3.45z" fill="#d73027" stroke="#d73027"/><path d="M265.6 398.3l3.45 -3.45l3.45 3.45l-3.45 3.45z" fill="#cf2827" stroke="#cf2827"/><path d="M262.2 401.7l3.45 -3.45l3.45 3.45l-3.45 3.45z" fill="#d52e27" stroke="#d52e27"/><path d="M258.8 405.1l3.45 -3.45l3.45 3.45l-3.45 3.45z" fill="#db392b" stroke="#db392b"/><path d="M255.4 408.5l3.45 -3.45l3.45 3.45l-3.45 3.45z" fill="#e64f35" stroke="#e64f35"/><path d="M252.0 411.9l3.45 -3.45l3.45 3.45l-3.45 3.45z" fill="#f46d43" stroke="#f46d43"/><path d="M319.9 350.7l3.45 -3.45l3.45 3.45l-3.45 3.45z" fill="#f57748" stroke="#f57748"/><path d="M316.6 354.1l3.45 -3.45l3.45 3.45l-3.45 3.45z" fill="#e75136" stroke="#e75136"/><path d="M313.2 357.5l3.45 -3.45l3.45 3.45l-3.45 3.45z" fill="#dd3d2d" stroke="#dd3d2d"/><path d="M309.8 360.9l3.45 -3.45l3.45 3.45l-3.45 3.45z" fill="#da362a" stroke="#da362a"/><path d="M306.4 364.3l3.45 -3.45l3.45 3.45l-3.45 3.45z" fill="#d52e27" stroke="#d52e27"/><path d="M302.9 367.7l3.45 -3.45l3.45 3.45l-3.45 3.45z" fill="#d83328" stroke="#d83328"/><path d="M299.6 371.1l3.45 -3.45l3.45 3.45l-3.45 3.45z" fill="#da362a" stroke="#da362a"/><path d="M296.2 374.5l3.45 -3.45l3.45 3.45l-3.45 3.45z" fill="#dc3a2b" stroke="#dc3a2b"/><path d="M292.8 377.9l3.45 -3.45l3.45 3.45l-3.45 3.45z" fill="#db392b" stroke="#db392b"/><path d="M289.4 381.3l3.45 -3.45l3.45 3.45l-3.45 3.45z" fill="#da372a" stroke="#da372a"/><path d="M285.9 384.7l3.45 -3.45l3.45 3.45l-3.45 3.45z" fill="#dd3c2d" stroke="#dd3c2d"/><path d="M282.6 388.1l3.45 -3.45l3.45 3.45l-3.45 3.45z" fill="#d32c27" stroke="#d32c27"/><path d="M279.2 391.5l3.45 -3.45l3.45 3.45l-3.45 3.45z" fill="#d32d27" stroke="#d32d27"/><path d="M275.8 394.9l3.45 -3.45l3.45 3.45l-3.45 3.45z" fill="#d62f27" stroke="#d62f27"/><path d="M272.4 398.3l3.45 -3.45l3.45 3.45l-3.45 3.45z" fill="#d22b27" stroke="#d22b27"/><path d="M268.9 401.7l3.45 -3.45l3.45 3.45l-3.45 3.45z" fill="#d52e27" stroke="#d52e27"/><path d="M265.6 405.1l3.45 -3.45l3.45 3.45l-3.45 3.45z" fill="#d93429" stroke="#d93429"/><path d="M262.2 408.5l3.45 -3.45l3.45 3.45l-3.45 3.45z" fill="#e54e35" stroke="#e54e35"/><path d="M258.8 411.9l3.45 -3.45l3.45 3.45l-3.45 3.45z" fill="#ed5d3c" stroke="#ed5d3c"/><path d="M255.4 415.3l3.45 -3.45l3.45 3.45l-3.45 3.45z" fill="#f67a49" stroke="#f67a49"/><path d="M323.4 354.1l3.45 -3.45l3.45 3.45l-3.45 3.45z" fill="#f67b49" stroke="#f67b49"/><path d="M319.9 357.5l3.45 -3.45l3.45 3.45l-3.45 3.45z" fill="#ec5c3b" stroke="#ec5c3b"/><path d="M316.6 360.9l3.45 -3.45l3.45 3.45l-3.45 3.45z" fill="#e24631" stroke="#e24631"/><path d="M313.2 364.3l3.45 -3.45l3.45 3.45l-3.45 3.45z" fill="#e0422f" stroke="#e0422f"/><path d="M309.8 367.7l3.45 -3.45l3.45 3.45l-3.45 3.45z" fill="#df402f" stroke="#df402f"/><path d="M306.4 371.1l3.45 -3.45l3.45 3.45l-3.45 3.45z" fill="#d93529" stroke="#d93529"/><path d="M302.9 374.5l3.45 -3.45l3.45 3.45l-3.45 3.45z" fill="#db372a" stroke="#db372a"/><path d="M299.6 377.9l3.45 -3.45l3.45 3.45l-3.45 3.45z" fill="#d93429" stroke="#d93429"/><path d="M296.2 381.3l3.45 -3.45l3.45 3.45l-3.45 3.45z" fill="#db382b" stroke="#db382b"/><path d="M292.8 384.7l3.45 -3.45l3.45 3.45l-3.45 3.45z" fill="#d93429" stroke="#d93429"/><path d="M289.4 388.1l3.45 -3.45l3.45 3.45l-3.45 3.45z" fill="#db372a" stroke="#db372a"/><path d="M285.9 391.5l3.45 -3.45l3.45 3.45l-3.45 3.45z" fill="#d52e27" stroke="#d52e27"/><path d="M282.6 394.9l3.45 -3.45l3.45 3.45l-3.45 3.45z" fill="#d62f27" stroke="#d62f27"/><path d="M279.2 398.3l3.45 -3.45l3.45 3.45l-3.45 3.45z" fill="#d42d27" stroke="#d42d27"/><path d="M275.8 401.7l3.45 -3.45l3.45 3.45l-3.45 3.45z" fill="#d52e27" stroke="#d52e27"/><path d="M272.4 405.1l3.45 -3.45l3.45 3.45l-3.45 3.45z" fill="#d83228" stroke="#d83228"/><path d="M268.9 408.5l3.45 -3.45l3.45 3.45l-3.45 3.45z" fill="#dc3a2c" stroke="#dc3a2c"/><path d="M265.6 411.9l3.45 -3.45l3.45 3.45l-3.45 3.45z" fill="#e65036" stroke="#e65036"/><path d="M262.2 415.3l3.45 -3.45l3.45 3.45l-3.45 3.45z" fill="#f46c43" stroke="#f46c43"/><path d="M258.8 418.7l3.45 -3.45l3.45 3.45l-3.45 3.45z" fill="#f99355" stroke="#f99355"/><path d="M326.8 357.5l3.45 -3.45l3.45 3.45l-3.45 3.45z" fill="#f7864e" stroke="#f7864e"/><path d="M323.4 360.9l3.45 -3.45l3.45 3.45l-3.45 3.45z" fill="#f36a42" stroke="#f36a42"/><path d="M319.9 364.3l3.45 -3.45l3.45 3.45l-3.45 3.45z" fill="#e44b33" stroke="#e44b33"/><path d="M316.6 367.7l3.45 -3.45l3.45 3.45l-3.45 3.45z" fill="#e04330" stroke="#e04330"/><path d="M313.2 371.1l3.45 -3.45l3.45 3.45l-3.45 3.45z" fill="#db382b" stroke="#db382b"/><path d="M309.8 374.5l3.45 -3.45l3.45 3.45l-3.45 3.45z" fill="#db382b" stroke="#db382b"/><path d="M306.4 377.9l3.45 -3.45l3.45 3.45l-3.45 3.45z" fill="#dc3b2c" stroke="#dc3b2c"/><path d="M302.9 381.3l3.45 -3.45l3.45 3.45l-3.45 3.45z" fill="#dc3c2c" stroke="#dc3c2c"/><path d="M299.6 384.7l3.45 -3.45l3.45 3.45l-3.45 3.45z" fill="#da372a" stroke="#da372a"/><path d="M296.2 388.1l3.45 -3.45l3.45 3.45l-3.45 3.45z" fill="#d93529" stroke="#d93529"/><path d="M292.8 391.5l3.45 -3.45l3.45 3.45l-3.45 3.45z" fill="#d83128" stroke="#d83128"/><path d="M289.4 394.9l3.45 -3.45l3.45 3.45l-3.45 3.45z" fill="#da372a" stroke="#da372a"/><path d="M285.9 398.3l3.45 -3.45l3.45 3.45l-3.45 3.45z" fill="#d83328" stroke="#d83328"/><path d="M282.6 401.7l3.45 -3.45l3.45 3.45l-3.45 3.45z" fill="#d83328" stroke="#d83328"/><path d="M279.2 405.1l3.45 -3.45l3.45 3.45l-3.45 3.45z" fill="#d62f27" stroke="#d62f27"/><path d="M275.8 408.5l3.45 -3.45l3.45 3.45l-3.45 3.45z" fill="#df412f" stroke="#df412f"/><path d="M272.4 411.9l3.45 -3.45l3.45 3.45l-3.45 3.45z" fill="#df412f" stroke="#df412f"/><path d="M268.9 415.3l3.45 -3.45l3.45 3.45l-3.45 3.45z" fill="#ed5f3d" stroke="#ed5f3d"/><path d="M265.6 418.7l3.45 -3.45l3.45 3.45l-3.45 3.45z" fill="#f88a50" stroke="#f88a50"/><path d="M262.2 422.1l3.45 -3.45l3.45 3.45l-3.45 3.45z" fill="#fdb86b" stroke="#fdb86b"/><path d="M330.2 360.9l3.45 -3.45l3.45 3.45l-3.45 3.45z" fill="#f67e4b" stroke="#f67e4b"/><path d="M326.8 364.3l3.45 -3.45l3.45 3.45l-3.45 3.45z" fill="#ed5f3d" stroke="#ed5f3d"/><path d="M323.4 367.7l3.45 -3.45l3.45 3.45l-3.45 3.45z" fill="#e54e35" stroke="#e54e35"/><path d="M319.9 371.1l3.45 -3.45l3.45 3.45l-3.45 3.45z" fill="#df412f" stroke="#df412f"/><path d="M316.6 374.5l3.45 -3.45l3.45 3.45l-3.45 3.45z" fill="#dc3b2c" stroke="#dc3b2c"/><path d="M313.2 377.9l3.45 -3.45l3.45 3.45l-3.45 3.45z" fill="#dd3d2d" stroke="#dd3d2d"/><path d="M309.8 381.3l3.45 -3.45l3.45 3.45l-3.45 3.45z" fill="#da372a" stroke="#da372a"/><path d="M306.4 384.7l3.45 -3.45l3.45 3.45l-3.45 3.45z" fill="#db392b" stroke="#db392b"/><path d="M302.9 388.1l3.45 -3.45l3.45 3.45l-3.45 3.45z" fill="#dc3b2c" stroke="#dc3b2c"/><path d="M299.6 391.5l3.45 -3.45l3.45 3.45l-3.45 3.45z" fill="#db382a" stroke="#db382a"/><path d="M296.2 394.9l3.45 -3.45l3.45 3.45l-3.45 3.45z" fill="#db392b" stroke="#db392b"/><path d="M292.8 398.3l3.45 -3.45l3.45 3.45l-3.45 3.45z" fill="#da372a" stroke="#da372a"/><path d="M289.4 401.7l3.45 -3.45l3.45 3.45l-3.45 3.45z" fill="#dd3d2d" stroke="#dd3d2d"/><path d="M285.9 405.1l3.45 -3.45l3.45 3.45l-3.45 3.45z" fill="#df422f" stroke="#df422f"/><path d="M282.6 408.5l3.45 -3.45l3.45 3.45l-3.45 3.45z" fill="#dd3c2c" stroke="#dd3c2c"/><path d="M279.2 411.9l3.45 -3.45l3.45 3.45l-3.45 3.45z" fill="#de3f2e" stroke="#de3f2e"/><path d="M275.8 415.3l3.45 -3.45l3.45 3.45l-3.45 3.45z" fill="#e24731" stroke="#e24731"/><path d="M272.4 418.7l3.45 -3.45l3.45 3.45l-3.45 3.45z" fill="#f0653f" stroke="#f0653f"/><path d="M268.9 422.1l3.45 -3.45l3.45 3.45l-3.45 3.45z" fill="#fdac60" stroke="#fdac60"/><path d="M265.6 425.5l3.45 -3.45l3.45 3.45l-3.45 3.45z" fill="#fed788" stroke="#fed788"/><path d="M333.6 364.3l3.45 -3.45l3.45 3.45l-3.45 3.45z" fill="#f57346" stroke="#f57346"/><path d="M330.2 367.7l3.45 -3.45l3.45 3.45l-3.45 3.45z" fill="#e85438" stroke="#e85438"/><path d="M326.8 371.1l3.45 -3.45l3.45 3.45l-3.45 3.45z" fill="#e14530" stroke="#e14530"/><path d="M323.4 374.5l3.45 -3.45l3.45 3.45l-3.45 3.45z" fill="#e0422f" stroke="#e0422f"/><path d="M319.9 377.9l3.45 -3.45l3.45 3.45l-3.45 3.45z" fill="#dc3a2c" stroke="#dc3a2c"/><path d="M316.6 381.3l3.45 -3.45l3.45 3.45l-3.45 3.45z" fill="#de3f2e" stroke="#de3f2e"/><path d="M313.2 384.7l3.45 -3.45l3.45 3.45l-3.45 3.45z" fill="#db382b" stroke="#db382b"/><path d="M309.8 388.1l3.45 -3.45l3.45 3.45l-3.45 3.45z" fill="#dd3c2d" stroke="#dd3c2d"/><path d="M306.4 391.5l3.45 -3.45l3.45 3.45l-3.45 3.45z" fill="#dd3c2d" stroke="#dd3c2d"/><path d="M302.9 394.9l3.45 -3.45l3.45 3.45l-3.45 3.45z" fill="#db392b" stroke="#db392b"/><path d="M299.6 398.3l3.45 -3.45l3.45 3.45l-3.45 3.45z" fill="#de402e" stroke="#de402e"/><path d="M296.2 401.7l3.45 -3.45l3.45 3.45l-3.45 3.45z" fill="#e54d34" stroke="#e54d34"/><path d="M292.8 405.1l3.45 -3.45l3.45 3.45l-3.45 3.45z" fill="#e44b33" stroke="#e44b33"/><path d="M289.4 408.5l3.45 -3.45l3.45 3.45l-3.45 3.45z" fill="#e44b34" stroke="#e44b34"/><path d="M285.9 411.9l3.45 -3.45l3.45 3.45l-3.45 3.45z" fill="#eb5b3b" stroke="#eb5b3b"/><path d="M282.6 415.3l3.45 -3.45l3.45 3.45l-3.45 3.45z" fill="#e44c34" stroke="#e44c34"/><path d="M279.2 418.7l3.45 -3.45l3.45 3.45l-3.45 3.45z" fill="#ec5c3b" stroke="#ec5c3b"/><path d="M275.8 422.1l3.45 -3.45l3.45 3.45l-3.45 3.45z" fill="#f57848" stroke="#f57848"/><path d="M272.4 425.5l3.45 -3.45l3.45 3.45l-3.45 3.45z" fill="#fdb366" stroke="#fdb366"/><path d="M268.9 428.9l3.45 -3.45l3.45 3.45l-3.45 3.45z" fill="#fedf8f" stroke="#fedf8f"/><path d="M336.9 367.7l3.45 -3.45l3.45 3.45l-3.45 3.45z" fill="#eb593a" stroke="#eb593a"/><path d="M333.6 371.1l3.45 -3.45l3.45 3.45l-3.45 3.45z" fill="#df412f" stroke="#df412f"/><path d="M330.2 374.5l3.45 -3.45l3.45 3.45l-3.45 3.45z" fill="#dc3a2b" stroke="#dc3a2b"/><path d="M326.8 377.9l3.45 -3.45l3.45 3.45l-3.45 3.45z" fill="#da362a" stroke="#da362a"/><path d="M323.4 381.3l3.45 -3.45l3.45 3.45l-3.45 3.45z" fill="#dd3d2d" stroke="#dd3d2d"/><path d="M319.9 384.7l3.45 -3.45l3.45 3.45l-3.45 3.45z" fill="#dc392b" stroke="#dc392b"/><path d="M316.6 388.1l3.45 -3.45l3.45 3.45l-3.45 3.45z" fill="#d93429" stroke="#d93429"/><path d="M313.2 391.5l3.45 -3.45l3.45 3.45l-3.45 3.45z" fill="#de3e2d" stroke="#de3e2d"/><path d="M309.8 394.9l3.45 -3.45l3.45 3.45l-3.45 3.45z" fill="#dc3a2b" stroke="#dc3a2b"/><path d="M306.4 398.3l3.45 -3.45l3.45 3.45l-3.45 3.45z" fill="#dd3d2d" stroke="#dd3d2d"/><path d="M302.9 401.7l3.45 -3.45l3.45 3.45l-3.45 3.45z" fill="#e0432f" stroke="#e0432f"/><path d="M299.6 405.1l3.45 -3.45l3.45 3.45l-3.45 3.45z" fill="#e54d34" stroke="#e54d34"/><path d="M296.2 408.5l3.45 -3.45l3.45 3.45l-3.45 3.45z" fill="#ee613d" stroke="#ee613d"/><path d="M292.8 411.9l3.45 -3.45l3.45 3.45l-3.45 3.45z" fill="#f36c42" stroke="#f36c42"/><path d="M289.4 415.3l3.45 -3.45l3.45 3.45l-3.45 3.45z" fill="#f26841" stroke="#f26841"/><path d="M285.9 418.7l3.45 -3.45l3.45 3.45l-3.45 3.45z" fill="#f0643f" stroke="#f0643f"/><path d="M282.6 422.1l3.45 -3.45l3.45 3.45l-3.45 3.45z" fill="#f0653f" stroke="#f0653f"/><path d="M279.2 425.5l3.45 -3.45l3.45 3.45l-3.45 3.45z" fill="#f57547" stroke="#f57547"/><path d="M275.8 428.9l3.45 -3.45l3.45 3.45l-3.45 3.45z" fill="#fb9e59" stroke="#fb9e59"/><path d="M272.4 432.3l3.45 -3.45l3.45 3.45l-3.45 3.45z" fill="#fec879" stroke="#fec879"/><path d="M340.4 371.1l3.45 -3.45l3.45 3.45l-3.45 3.45z" fill="#e95639" stroke="#e95639"/><path d="M336.9 374.5l3.45 -3.45l3.45 3.45l-3.45 3.45z" fill="#d93529" stroke="#d93529"/><path d="M333.6 377.9l3.45 -3.45l3.45 3.45l-3.45 3.45z" fill="#da372a" stroke="#da372a"/><path d="M330.2 381.3l3.45 -3.45l3.45 3.45l-3.45 3.45z" fill="#d83228" stroke="#d83228"/><path d="M326.8 384.7l3.45 -3.45l3.45 3.45l-3.45 3.45z" fill="#dc3a2c" stroke="#dc3a2c"/><path d="M323.4 388.1l3.45 -3.45l3.45 3.45l-3.45 3.45z" fill="#d52e27" stroke="#d52e27"/><path d="M319.9 391.5l3.45 -3.45l3.45 3.45l-3.45 3.45z" fill="#d93329" stroke="#d93329"/><path d="M316.6 394.9l3.45 -3.45l3.45 3.45l-3.45 3.45z" fill="#da362a" stroke="#da362a"/><path d="M313.2 398.3l3.45 -3.45l3.45 3.45l-3.45 3.45z" fill="#dc3a2c" stroke="#dc3a2c"/><path d="M309.8 401.7l3.45 -3.45l3.45 3.45l-3.45 3.45z" fill="#e34a33" stroke="#e34a33"/><path d="M306.4 405.1l3.45 -3.45l3.45 3.45l-3.45 3.45z" fill="#e34a33" stroke="#e34a33"/><path d="M302.9 408.5l3.45 -3.45l3.45 3.45l-3.45 3.45z" fill="#e95538" stroke="#e95538"/><path d="M299.6 411.9l3.45 -3.45l3.45 3.45l-3.45 3.45z" fill="#f46e44" stroke="#f46e44"/><path d="M296.2 415.3l3.45 -3.45l3.45 3.45l-3.45 3.45z" fill="#f57547" stroke="#f57547"/><path d="M292.8 418.7l3.45 -3.45l3.45 3.45l-3.45 3.45z" fill="#f57547" stroke="#f57547"/><path d="M289.4 422.1l3.45 -3.45l3.45 3.45l-3.45 3.45z" fill="#f57446" stroke="#f57446"/><path d="M285.9 425.5l3.45 -3.45l3.45 3.45l-3.45 3.45z" fill="#ef633e" stroke="#ef633e"/><path d="M282.6 428.9l3.45 -3.45l3.45 3.45l-3.45 3.45z" fill="#f47044" stroke="#f47044"/><path d="M279.2 432.3l3.45 -3.45l3.45 3.45l-3.45 3.45z" fill="#f99455" stroke="#f99455"/><path d="M275.8 435.7l3.45 -3.45l3.45 3.45l-3.45 3.45z" fill="#fdb76a" stroke="#fdb76a"/><path d="M343.8 374.5l3.45 -3.45l3.45 3.45l-3.45 3.45z" fill="#ec5c3b" stroke="#ec5c3b"/><path d="M340.4 377.9l3.45 -3.45l3.45 3.45l-3.45 3.45z" fill="#e44b34" stroke="#e44b34"/><path d="M336.9 381.3l3.45 -3.45l3.45 3.45l-3.45 3.45z" fill="#da362a" stroke="#da362a"/><path d="M333.6 384.7l3.45 -3.45l3.45 3.45l-3.45 3.45z" fill="#d63027" stroke="#d63027"/><path d="M330.2 388.1l3.45 -3.45l3.45 3.45l-3.45 3.45z" fill="#db392b" stroke="#db392b"/><path d="M326.8 391.5l3.45 -3.45l3.45 3.45l-3.45 3.45z" fill="#d73127" stroke="#d73127"/><path d="M323.4 394.9l3.45 -3.45l3.45 3.45l-3.45 3.45z" fill="#da362a" stroke="#da362a"/><path d="M319.9 398.3l3.45 -3.45l3.45 3.45l-3.45 3.45z" fill="#dd3d2d" stroke="#dd3d2d"/><path d="M316.6 401.7l3.45 -3.45l3.45 3.45l-3.45 3.45z" fill="#db392b" stroke="#db392b"/><path d="M313.2 405.1l3.45 -3.45l3.45 3.45l-3.45 3.45z" fill="#e14531" stroke="#e14531"/><path d="M309.8 408.5l3.45 -3.45l3.45 3.45l-3.45 3.45z" fill="#e54d34" stroke="#e54d34"/><path d="M306.4 411.9l3.45 -3.45l3.45 3.45l-3.45 3.45z" fill="#f0643f" stroke="#f0643f"/><path d="M302.9 415.3l3.45 -3.45l3.45 3.45l-3.45 3.45z" fill="#f46d43" stroke="#f46d43"/><path d="M299.6 418.7l3.45 -3.45l3.45 3.45l-3.45 3.45z" fill="#f7824d" stroke="#f7824d"/><path d="M296.2 422.1l3.45 -3.45l3.45 3.45l-3.45 3.45z" fill="#f7804c" stroke="#f7804c"/><path d="M292.8 425.5l3.45 -3.45l3.45 3.45l-3.45 3.45z" fill="#f67a49" stroke="#f67a49"/><path d="M289.4 428.9l3.45 -3.45l3.45 3.45l-3.45 3.45z" fill="#f46f44" stroke="#f46f44"/><path d="M285.9 432.3l3.45 -3.45l3.45 3.45l-3.45 3.45z" fill="#f46f44" stroke="#f46f44"/><path d="M282.6 435.7l3.45 -3.45l3.45 3.45l-3.45 3.45z" fill="#f8884f" stroke="#f8884f"/><path d="M279.2 439.1l3.45 -3.45l3.45 3.45l-3.45 3.45z" fill="#fca85e" stroke="#fca85e"/><path d="M347.2 377.9l3.45 -3.45l3.45 3.45l-3.45 3.45z" fill="#f57145" stroke="#f57145"/><path d="M343.8 381.3l3.45 -3.45l3.45 3.45l-3.45 3.45z" fill="#e64f35" stroke="#e64f35"/><path d="M340.4 384.7l3.45 -3.45l3.45 3.45l-3.45 3.45z" fill="#dd3d2d" stroke="#dd3d2d"/><path d="M336.9 388.1l3.45 -3.45l3.45 3.45l-3.45 3.45z" fill="#db382b" stroke="#db382b"/><path d="M333.6 391.5l3.45 -3.45l3.45 3.45l-3.45 3.45z" fill="#d93429" stroke="#d93429"/><path d="M330.2 394.9l3.45 -3.45l3.45 3.45l-3.45 3.45z" fill="#db382b" stroke="#db382b"/><path d="M326.8 398.3l3.45 -3.45l3.45 3.45l-3.45 3.45z" fill="#da372a" stroke="#da372a"/><path d="M323.4 401.7l3.45 -3.45l3.45 3.45l-3.45 3.45z" fill="#da362a" stroke="#da362a"/><path d="M319.9 405.1l3.45 -3.45l3.45 3.45l-3.45 3.45z" fill="#d93529" stroke="#d93529"/><path d="M316.6 408.5l3.45 -3.45l3.45 3.45l-3.45 3.45z" fill="#de3e2d" stroke="#de3e2d"/><path d="M313.2 411.9l3.45 -3.45l3.45 3.45l-3.45 3.45z" fill="#e64f35" stroke="#e64f35"/><path d="M309.8 415.3l3.45 -3.45l3.45 3.45l-3.45 3.45z" fill="#eb5b3b" stroke="#eb5b3b"/><path d="M306.4 418.7l3.45 -3.45l3.45 3.45l-3.45 3.45z" fill="#f46d43" stroke="#f46d43"/><path d="M302.9 422.1l3.45 -3.45l3.45 3.45l-3.45 3.45z" fill="#f7804c" stroke="#f7804c"/><path d="M299.6 425.5l3.45 -3.45l3.45 3.45l-3.45 3.45z" fill="#f7814c" stroke="#f7814c"/><path d="M296.2 428.9l3.45 -3.45l3.45 3.45l-3.45 3.45z" fill="#f7804c" stroke="#f7804c"/><path d="M292.8 432.3l3.45 -3.45l3.45 3.45l-3.45 3.45z" fill="#f57446" stroke="#f57446"/><path d="M289.4 435.7l3.45 -3.45l3.45 3.45l-3.45 3.45z" fill="#f46f44" stroke="#f46f44"/><path d="M285.9 439.1l3.45 -3.45l3.45 3.45l-3.45 3.45z" fill="#f67d4b" stroke="#f67d4b"/><path d="M347.2 384.7l3.45 -3.45l3.45 3.45l-3.45 3.45z" fill="#e54e35" stroke="#e54e35"/><path d="M343.8 388.1l3.45 -3.45l3.45 3.45l-3.45 3.45z" fill="#e14631" stroke="#e14631"/><path d="M340.4 391.5l3.45 -3.45l3.45 3.45l-3.45 3.45z" fill="#d83328" stroke="#d83328"/><path d="M336.9 394.9l3.45 -3.45l3.45 3.45l-3.45 3.45z" fill="#db392b" stroke="#db392b"/><path d="M333.6 398.3l3.45 -3.45l3.45 3.45l-3.45 3.45z" fill="#d93529" stroke="#d93529"/><path d="M330.2 401.7l3.45 -3.45l3.45 3.45l-3.45 3.45z" fill="#db382a" stroke="#db382a"/><path d="M326.8 405.1l3.45 -3.45l3.45 3.45l-3.45 3.45z" fill="#d62f27" stroke="#d62f27"/><path d="M323.4 408.5l3.45 -3.45l3.45 3.45l-3.45 3.45z" fill="#d62f27" stroke="#d62f27"/><path d="M319.9 411.9l3.45 -3.45l3.45 3.45l-3.45 3.45z" fill="#da372a" stroke="#da372a"/><path d="M316.6 415.3l3.45 -3.45l3.45 3.45l-3.45 3.45z" fill="#e04330" stroke="#e04330"/><path d="M313.2 418.7l3.45 -3.45l3.45 3.45l-3.45 3.45z" fill="#ec5c3b" stroke="#ec5c3b"/><path d="M309.8 422.1l3.45 -3.45l3.45 3.45l-3.45 3.45z" fill="#f26941" stroke="#f26941"/><path d="M306.4 425.5l3.45 -3.45l3.45 3.45l-3.45 3.45z" fill="#f57748" stroke="#f57748"/><path d="M302.9 428.9l3.45 -3.45l3.45 3.45l-3.45 3.45z" fill="#f67f4b" stroke="#f67f4b"/><path d="M299.6 432.3l3.45 -3.45l3.45 3.45l-3.45 3.45z" fill="#f57245" stroke="#f57245"/><path d="M296.2 435.7l3.45 -3.45l3.45 3.45l-3.45 3.45z" fill="#f46c43" stroke="#f46c43"/><path d="M292.8 439.1l3.45 -3.45l3.45 3.45l-3.45 3.45z" fill="#f26841" stroke="#f26841"/><path d="M289.4 442.5l3.45 -3.45l3.45 3.45l-3.45 3.45z" fill="#f46e44" stroke="#f46e44"/><path d="M350.6 388.1l3.45 -3.45l3.45 3.45l-3.45 3.45z" fill="#e34a33" stroke="#e34a33"/><path d="M347.2 391.5l3.45 -3.45l3.45 3.45l-3.45 3.45z" fill="#de3f2e" stroke="#de3f2e"/><path d="M343.8 394.9l3.45 -3.45l3.45 3.45l-3.45 3.45z" fill="#dc3b2c" stroke="#dc3b2c"/><path d="M340.4 398.3l3.45 -3.45l3.45 3.45l-3.45 3.45z" fill="#d93529" stroke="#d93529"/><path d="M336.9 401.7l3.45 -3.45l3.45 3.45l-3.45 3.45z" fill="#d93429" stroke="#d93429"/><path d="M333.6 405.1l3.45 -3.45l3.45 3.45l-3.45 3.45z" fill="#d73127" stroke="#d73127"/><path d="M330.2 408.5l3.45 -3.45l3.45 3.45l-3.45 3.45z" fill="#d42e27" stroke="#d42e27"/><path d="M326.8 411.9l3.45 -3.45l3.45 3.45l-3.45 3.45z" fill="#da372a" stroke="#da372a"/><path d="M323.4 415.3l3.45 -3.45l3.45 3.45l-3.45 3.45z" fill="#db392b" stroke="#db392b"/><path d="M319.9 418.7l3.45 -3.45l3.45 3.45l-3.45 3.45z" fill="#de3e2d" stroke="#de3e2d"/><path d="M316.6 422.1l3.45 -3.45l3.45 3.45l-3.45 3.45z" fill="#e64f35" stroke="#e64f35"/><path d="M313.2 425.5l3.45 -3.45l3.45 3.45l-3.45 3.45z" fill="#ea593a" stroke="#ea593a"/><path d="M309.8 428.9l3.45 -3.45l3.45 3.45l-3.45 3.45z" fill="#ed5e3c" stroke="#ed5e3c"/><path d="M306.4 432.3l3.45 -3.45l3.45 3.45l-3.45 3.45z" fill="#ef633e" stroke="#ef633e"/><path d="M302.9 435.7l3.45 -3.45l3.45 3.45l-3.45 3.45z" fill="#ee603d" stroke="#ee603d"/><path d="M299.6 439.1l3.45 -3.45l3.45 3.45l-3.45 3.45z" fill="#ed5f3d" stroke="#ed5f3d"/><path d="M296.2 442.5l3.45 -3.45l3.45 3.45l-3.45 3.45z" fill="#ed5e3c" stroke="#ed5e3c"/><path d="M292.8 445.9l3.45 -3.45l3.45 3.45l-3.45 3.45z" fill="#ee613d" stroke="#ee613d"/><path d="M353.9 391.5l3.45 -3.45l3.45 3.45l-3.45 3.45z" fill="#df402e" stroke="#df402e"/><path d="M350.6 394.9l3.45 -3.45l3.45 3.45l-3.45 3.45z" fill="#db382b" stroke="#db382b"/><path d="M347.2 398.3l3.45 -3.45l3.45 3.45l-3.45 3.45z" fill="#d93329" stroke="#d93329"/><path d="M343.8 401.7l3.45 -3.45l3.45 3.45l-3.45 3.45z" fill="#dc3a2b" stroke="#dc3a2b"/><path d="M340.4 405.1l3.45 -3.45l3.45 3.45l-3.45 3.45z" fill="#dc3a2c" stroke="#dc3a2c"/><path d="M336.9 408.5l3.45 -3.45l3.45 3.45l-3.45 3.45z" fill="#da362a" stroke="#da362a"/><path d="M333.6 411.9l3.45 -3.45l3.45 3.45l-3.45 3.45z" fill="#d83228" stroke="#d83228"/><path d="M330.2 415.3l3.45 -3.45l3.45 3.45l-3.45 3.45z" fill="#d83128" stroke="#d83128"/><path d="M326.8 418.7l3.45 -3.45l3.45 3.45l-3.45 3.45z" fill="#d93329" stroke="#d93329"/><path d="M323.4 422.1l3.45 -3.45l3.45 3.45l-3.45 3.45z" fill="#d93429" stroke="#d93429"/><path d="M319.9 425.5l3.45 -3.45l3.45 3.45l-3.45 3.45z" fill="#df412f" stroke="#df412f"/><path d="M316.6 428.9l3.45 -3.45l3.45 3.45l-3.45 3.45z" fill="#e24732" stroke="#e24732"/><path d="M313.2 432.3l3.45 -3.45l3.45 3.45l-3.45 3.45z" fill="#e54e35" stroke="#e54e35"/><path d="M309.8 435.7l3.45 -3.45l3.45 3.45l-3.45 3.45z" fill="#eb5a3a" stroke="#eb5a3a"/><path d="M306.4 439.1l3.45 -3.45l3.45 3.45l-3.45 3.45z" fill="#ec5c3b" stroke="#ec5c3b"/><path d="M302.9 442.5l3.45 -3.45l3.45 3.45l-3.45 3.45z" fill="#ec5d3c" stroke="#ec5d3c"/><path d="M299.6 445.9l3.45 -3.45l3.45 3.45l-3.45 3.45z" fill="#ed5e3c" stroke="#ed5e3c"/><path d="M357.4 394.9l3.45 -3.45l3.45 3.45l-3.45 3.45z" fill="#e64f35" stroke="#e64f35"/><path d="M353.9 398.3l3.45 -3.45l3.45 3.45l-3.45 3.45z" fill="#e14531" stroke="#e14531"/><path d="M350.6 401.7l3.45 -3.45l3.45 3.45l-3.45 3.45z" fill="#dd3c2c" stroke="#dd3c2c"/><path d="M347.2 405.1l3.45 -3.45l3.45 3.45l-3.45 3.45z" fill="#d93429" stroke="#d93429"/><path d="M343.8 408.5l3.45 -3.45l3.45 3.45l-3.45 3.45z" fill="#dc3b2c" stroke="#dc3b2c"/><path d="M340.4 411.9l3.45 -3.45l3.45 3.45l-3.45 3.45z" fill="#d93429" stroke="#d93429"/><path d="M336.9 415.3l3.45 -3.45l3.45 3.45l-3.45 3.45z" fill="#db382a" stroke="#db382a"/><path d="M333.6 418.7l3.45 -3.45l3.45 3.45l-3.45 3.45z" fill="#dc3c2c" stroke="#dc3c2c"/><path d="M330.2 422.1l3.45 -3.45l3.45 3.45l-3.45 3.45z" fill="#d93429" stroke="#d93429"/><path d="M326.8 425.5l3.45 -3.45l3.45 3.45l-3.45 3.45z" fill="#d83228" stroke="#d83228"/><path d="M323.4 428.9l3.45 -3.45l3.45 3.45l-3.45 3.45z" fill="#d12a27" stroke="#d12a27"/><path d="M319.9 432.3l3.45 -3.45l3.45 3.45l-3.45 3.45z" fill="#d93529" stroke="#d93529"/><path d="M316.6 435.7l3.45 -3.45l3.45 3.45l-3.45 3.45z" fill="#db392b" stroke="#db392b"/><path d="M313.2 439.1l3.45 -3.45l3.45 3.45l-3.45 3.45z" fill="#e54d34" stroke="#e54d34"/><path d="M309.8 442.5l3.45 -3.45l3.45 3.45l-3.45 3.45z" fill="#ef623e" stroke="#ef623e"/><path d="M306.4 445.9l3.45 -3.45l3.45 3.45l-3.45 3.45z" fill="#ee5f3d" stroke="#ee5f3d"/><path d="M302.9 449.3l3.45 -3.45l3.45 3.45l-3.45 3.45z" fill="#ef633e" stroke="#ef633e"/><path d="M360.8 398.3l3.45 -3.45l3.45 3.45l-3.45 3.45z" fill="#f0643f" stroke="#f0643f"/><path d="M357.4 401.7l3.45 -3.45l3.45 3.45l-3.45 3.45z" fill="#e24731" stroke="#e24731"/><path d="M353.9 405.1l3.45 -3.45l3.45 3.45l-3.45 3.45z" fill="#e24832" stroke="#e24832"/><path d="M350.6 408.5l3.45 -3.45l3.45 3.45l-3.45 3.45z" fill="#dd3c2d" stroke="#dd3c2d"/><path d="M347.2 411.9l3.45 -3.45l3.45 3.45l-3.45 3.45z" fill="#e0422f" stroke="#e0422f"/><path d="M343.8 415.3l3.45 -3.45l3.45 3.45l-3.45 3.45z" fill="#dc3a2c" stroke="#dc3a2c"/><path d="M340.4 418.7l3.45 -3.45l3.45 3.45l-3.45 3.45z" fill="#e14430" stroke="#e14430"/><path d="M336.9 422.1l3.45 -3.45l3.45 3.45l-3.45 3.45z" fill="#e24731" stroke="#e24731"/><path d="M333.6 425.5l3.45 -3.45l3.45 3.45l-3.45 3.45z" fill="#d93329" stroke="#d93329"/><path d="M330.2 428.9l3.45 -3.45l3.45 3.45l-3.45 3.45z" fill="#c82227" stroke="#c82227"/><path d="M326.8 432.3l3.45 -3.45l3.45 3.45l-3.45 3.45z" fill="#c72127" stroke="#c72127"/><path d="M323.4 435.7l3.45 -3.45l3.45 3.45l-3.45 3.45z" fill="#c41e27" stroke="#c41e27"/><path d="M319.9 439.1l3.45 -3.45l3.45 3.45l-3.45 3.45z" fill="#d52e27" stroke="#d52e27"/><path d="M316.6 442.5l3.45 -3.45l3.45 3.45l-3.45 3.45z" fill="#e54e35" stroke="#e54e35"/><path d="M313.2 445.9l3.45 -3.45l3.45 3.45l-3.45 3.45z" fill="#f16740" stroke="#f16740"/><path d="M309.8 449.3l3.45 -3.45l3.45 3.45l-3.45 3.45z" fill="#f57245" stroke="#f57245"/><path d="M306.4 452.7l3.45 -3.45l3.45 3.45l-3.45 3.45z" fill="#f8874f" stroke="#f8874f"/><path d="M364.2 401.7l3.45 -3.45l3.45 3.45l-3.45 3.45z" fill="#ea5839" stroke="#ea5839"/><path d="M360.8 405.1l3.45 -3.45l3.45 3.45l-3.45 3.45z" fill="#e14631" stroke="#e14631"/><path d="M357.4 408.5l3.45 -3.45l3.45 3.45l-3.45 3.45z" fill="#e14631" stroke="#e14631"/><path d="M353.9 411.9l3.45 -3.45l3.45 3.45l-3.45 3.45z" fill="#da362a" stroke="#da362a"/><path d="M350.6 415.3l3.45 -3.45l3.45 3.45l-3.45 3.45z" fill="#d83228" stroke="#d83228"/><path d="M347.2 418.7l3.45 -3.45l3.45 3.45l-3.45 3.45z" fill="#de3f2e" stroke="#de3f2e"/><path d="M343.8 422.1l3.45 -3.45l3.45 3.45l-3.45 3.45z" fill="#db382b" stroke="#db382b"/><path d="M340.4 425.5l3.45 -3.45l3.45 3.45l-3.45 3.45z" fill="#df402f" stroke="#df402f"/><path d="M336.9 428.9l3.45 -3.45l3.45 3.45l-3.45 3.45z" fill="#dc392b" stroke="#dc392b"/><path d="M333.6 432.3l3.45 -3.45l3.45 3.45l-3.45 3.45z" fill="#c62027" stroke="#c62027"/><path d="M330.2 435.7l3.45 -3.45l3.45 3.45l-3.45 3.45z" fill="#b91326" stroke="#b91326"/><path d="M326.8 439.1l3.45 -3.45l3.45 3.45l-3.45 3.45z" fill="#b81226" stroke="#b81226"/><path d="M323.4 442.5l3.45 -3.45l3.45 3.45l-3.45 3.45z" fill="#c41e27" stroke="#c41e27"/><path d="M319.9 445.9l3.45 -3.45l3.45 3.45l-3.45 3.45z" fill="#df402e" stroke="#df402e"/><path d="M313.2 452.7l3.45 -3.45l3.45 3.45l-3.45 3.45z" fill="#f8864f" stroke="#f8864f"/><path d="M309.8 456.1l3.45 -3.45l3.45 3.45l-3.45 3.45z" fill="#fb9e5a" stroke="#fb9e5a"/><path d="M364.2 408.5l3.45 -3.45l3.45 3.45l-3.45 3.45z" fill="#e34932" stroke="#e34932"/><path d="M360.8 411.9l3.45 -3.45l3.45 3.45l-3.45 3.45z" fill="#da362a" stroke="#da362a"/><path d="M357.4 415.3l3.45 -3.45l3.45 3.45l-3.45 3.45z" fill="#db392b" stroke="#db392b"/><path d="M353.9 418.7l3.45 -3.45l3.45 3.45l-3.45 3.45z" fill="#d93429" stroke="#d93429"/><path d="M350.6 422.1l3.45 -3.45l3.45 3.45l-3.45 3.45z" fill="#dc3b2c" stroke="#dc3b2c"/><path d="M347.2 425.5l3.45 -3.45l3.45 3.45l-3.45 3.45z" fill="#dc3b2c" stroke="#dc3b2c"/><path d="M343.8 428.9l3.45 -3.45l3.45 3.45l-3.45 3.45z" fill="#df422f" stroke="#df422f"/><path d="M340.4 432.3l3.45 -3.45l3.45 3.45l-3.45 3.45z" fill="#d73027" stroke="#d73027"/><path d="M336.9 435.7l3.45 -3.45l3.45 3.45l-3.45 3.45z" fill="#cc2627" stroke="#cc2627"/><path d="M333.6 439.1l3.45 -3.45l3.45 3.45l-3.45 3.45z" fill="#b91326" stroke="#b91326"/><path d="M330.2 442.5l3.45 -3.45l3.45 3.45l-3.45 3.45z" fill="#be1827" stroke="#be1827"/><path d="M326.8 445.9l3.45 -3.45l3.45 3.45l-3.45 3.45z" fill="#c11b27" stroke="#c11b27"/><path d="M319.9 452.7l3.45 -3.45l3.45 3.45l-3.45 3.45z" fill="#f16640" stroke="#f16640"/><path d="M316.6 456.1l3.45 -3.45l3.45 3.45l-3.45 3.45z" fill="#f7824d" stroke="#f7824d"/><path d="M313.2 459.5l3.45 -3.45l3.45 3.45l-3.45 3.45z" fill="#fca55d" stroke="#fca55d"/><path d="M309.8 462.9l3.45 -3.45l3.45 3.45l-3.45 3.45z" fill="#fdc173" stroke="#fdc173"/><path d="M370.9 408.5l3.45 -3.45l3.45 3.45l-3.45 3.45z" fill="#ee613d" stroke="#ee613d"/><path d="M367.6 411.9l3.45 -3.45l3.45 3.45l-3.45 3.45z" fill="#e24731" stroke="#e24731"/><path d="M364.2 415.3l3.45 -3.45l3.45 3.45l-3.45 3.45z" fill="#d93429" stroke="#d93429"/><path d="M360.8 418.7l3.45 -3.45l3.45 3.45l-3.45 3.45z" fill="#d83228" stroke="#d83228"/><path d="M357.4 422.1l3.45 -3.45l3.45 3.45l-3.45 3.45z" fill="#d62f27" stroke="#d62f27"/><path d="M353.9 425.5l3.45 -3.45l3.45 3.45l-3.45 3.45z" fill="#d93429" stroke="#d93429"/><path d="M347.2 432.3l3.45 -3.45l3.45 3.45l-3.45 3.45z" fill="#da362a" stroke="#da362a"/><path d="M340.4 439.1l3.45 -3.45l3.45 3.45l-3.45 3.45z" fill="#cc2627" stroke="#cc2627"/><path d="M336.9 442.5l3.45 -3.45l3.45 3.45l-3.45 3.45z" fill="#ca2427" stroke="#ca2427"/><path d="M333.6 445.9l3.45 -3.45l3.45 3.45l-3.45 3.45z" fill="#d32c27" stroke="#d32c27"/><path d="M326.8 452.7l3.45 -3.45l3.45 3.45l-3.45 3.45z" fill="#d62f27" stroke="#d62f27"/><path d="M323.4 456.1l3.45 -3.45l3.45 3.45l-3.45 3.45z" fill="#e44c34" stroke="#e44c34"/><path d="M319.9 459.5l3.45 -3.45l3.45 3.45l-3.45 3.45z" fill="#f36a42" stroke="#f36a42"/><path d="M316.6 462.9l3.45 -3.45l3.45 3.45l-3.45 3.45z" fill="#fdb063" stroke="#fdb063"/><path d="M313.2 466.3l3.45 -3.45l3.45 3.45l-3.45 3.45z" fill="#fed989" stroke="#fed989"/><path d="M374.4 411.9l3.45 -3.45l3.45 3.45l-3.45 3.45z" fill="#ed5e3c" stroke="#ed5e3c"/><path d="M370.9 415.3l3.45 -3.45l3.45 3.45l-3.45 3.45z" fill="#e04330" stroke="#e04330"/><path d="M367.6 418.7l3.45 -3.45l3.45 3.45l-3.45 3.45z" fill="#d42d27" stroke="#d42d27"/><path d="M364.2 422.1l3.45 -3.45l3.45 3.45l-3.45 3.45z" fill="#d83228" stroke="#d83228"/><path d="M360.8 425.5l3.45 -3.45l3.45 3.45l-3.45 3.45z" fill="#d93328" stroke="#d93328"/><path d="M357.4 428.9l3.45 -3.45l3.45 3.45l-3.45 3.45z" fill="#dd3c2c" stroke="#dd3c2c"/><path d="M353.9 432.3l3.45 -3.45l3.45 3.45l-3.45 3.45z" fill="#e0422f" stroke="#e0422f"/><path d="M347.2 439.1l3.45 -3.45l3.45 3.45l-3.45 3.45z" fill="#db392b" stroke="#db392b"/><path d="M343.8 442.5l3.45 -3.45l3.45 3.45l-3.45 3.45z" fill="#d52e27" stroke="#d52e27"/><path d="M340.4 445.9l3.45 -3.45l3.45 3.45l-3.45 3.45z" fill="#dc3a2c" stroke="#dc3a2c"/><path d="M333.6 452.7l3.45 -3.45l3.45 3.45l-3.45 3.45z" fill="#da372a" stroke="#da372a"/><path d="M330.2 456.1l3.45 -3.45l3.45 3.45l-3.45 3.45z" fill="#e24832" stroke="#e24832"/><path d="M326.8 459.5l3.45 -3.45l3.45 3.45l-3.45 3.45z" fill="#f36b42" stroke="#f36b42"/><path d="M323.4 462.9l3.45 -3.45l3.45 3.45l-3.45 3.45z" fill="#f57246" stroke="#f57246"/><path d="M319.9 466.3l3.45 -3.45l3.45 3.45l-3.45 3.45z" fill="#fba15b" stroke="#fba15b"/><path d="M316.6 469.7l3.45 -3.45l3.45 3.45l-3.45 3.45z" fill="#feda8a" stroke="#feda8a"/><path d="M377.8 415.3l3.45 -3.45l3.45 3.45l-3.45 3.45z" fill="#e44b34" stroke="#e44b34"/><path d="M374.4 418.7l3.45 -3.45l3.45 3.45l-3.45 3.45z" fill="#e14631" stroke="#e14631"/><path d="M370.9 422.1l3.45 -3.45l3.45 3.45l-3.45 3.45z" fill="#e64f35" stroke="#e64f35"/><path d="M367.6 425.5l3.45 -3.45l3.45 3.45l-3.45 3.45z" fill="#e24832" stroke="#e24832"/><path d="M364.2 428.9l3.45 -3.45l3.45 3.45l-3.45 3.45z" fill="#e95638" stroke="#e95638"/><path d="M357.4 435.7l3.45 -3.45l3.45 3.45l-3.45 3.45z" fill="#e44c34" stroke="#e44c34"/><path d="M353.9 439.1l3.45 -3.45l3.45 3.45l-3.45 3.45z" fill="#e34a33" stroke="#e34a33"/><path d="M350.6 442.5l3.45 -3.45l3.45 3.45l-3.45 3.45z" fill="#e54e35" stroke="#e54e35"/><path d="M347.2 445.9l3.45 -3.45l3.45 3.45l-3.45 3.45z" fill="#ed5e3c" stroke="#ed5e3c"/><path d="M340.4 452.7l3.45 -3.45l3.45 3.45l-3.45 3.45z" fill="#f67e4b" stroke="#f67e4b"/><path d="M336.9 456.1l3.45 -3.45l3.45 3.45l-3.45 3.45z" fill="#f99254" stroke="#f99254"/><path d="M333.6 459.5l3.45 -3.45l3.45 3.45l-3.45 3.45z" fill="#fba15b" stroke="#fba15b"/><path d="M330.2 462.9l3.45 -3.45l3.45 3.45l-3.45 3.45z" fill="#fba25c" stroke="#fba25c"/><path d="M326.8 466.3l3.45 -3.45l3.45 3.45l-3.45 3.45z" fill="#f99555" stroke="#f99555"/><path d="M323.4 469.7l3.45 -3.45l3.45 3.45l-3.45 3.45z" fill="#fb9f5a" stroke="#fb9f5a"/><path d="M319.9 473.1l3.45 -3.45l3.45 3.45l-3.45 3.45z" fill="#fb9d59" stroke="#fb9d59"/><path d="M381.2 418.7l3.45 -3.45l3.45 3.45l-3.45 3.45z" fill="#ef633e" stroke="#ef633e"/><path d="M377.8 422.1l3.45 -3.45l3.45 3.45l-3.45 3.45z" fill="#fb9f5a" stroke="#fb9f5a"/><path d="M374.4 425.5l3.45 -3.45l3.45 3.45l-3.45 3.45z" fill="#f99053" stroke="#f99053"/><path d="M370.9 428.9l3.45 -3.45l3.45 3.45l-3.45 3.45z" fill="#f88950" stroke="#f88950"/><path d="M367.6 432.3l3.45 -3.45l3.45 3.45l-3.45 3.45z" fill="#f88d52" stroke="#f88d52"/><path d="M364.2 435.7l3.45 -3.45l3.45 3.45l-3.45 3.45z" fill="#f88b51" stroke="#f88b51"/><path d="M360.8 439.1l3.45 -3.45l3.45 3.45l-3.45 3.45z" fill="#f7804c" stroke="#f7804c"/><path d="M357.4 442.5l3.45 -3.45l3.45 3.45l-3.45 3.45z" fill="#f7814c" stroke="#f7814c"/><path d="M353.9 445.9l3.45 -3.45l3.45 3.45l-3.45 3.45z" fill="#f99153" stroke="#f99153"/><path d="M350.6 449.3l3.45 -3.45l3.45 3.45l-3.45 3.45z" fill="#fca85e" stroke="#fca85e"/><path d="M347.2 452.7l3.45 -3.45l3.45 3.45l-3.45 3.45z" fill="#fdc778" stroke="#fdc778"/><path d="M343.8 456.1l3.45 -3.45l3.45 3.45l-3.45 3.45z" fill="#fed788" stroke="#fed788"/><path d="M340.4 459.5l3.45 -3.45l3.45 3.45l-3.45 3.45z" fill="#fede8e" stroke="#fede8e"/><path d="M336.9 462.9l3.45 -3.45l3.45 3.45l-3.45 3.45z" fill="#fee090" stroke="#fee090"/><path d="M333.6 466.3l3.45 -3.45l3.45 3.45l-3.45 3.45z" fill="#fecd7e" stroke="#fecd7e"/><path d="M330.2 469.7l3.45 -3.45l3.45 3.45l-3.45 3.45z" fill="#fdb76a" stroke="#fdb76a"/><path d="M326.8 473.1l3.45 -3.45l3.45 3.45l-3.45 3.45z" fill="#fdaf62" stroke="#fdaf62"/><path d="M323.4 476.5l3.45 -3.45l3.45 3.45l-3.45 3.45z" fill="#fdb365" stroke="#fdb365"/><path d="M384.6 422.1l3.45 -3.45l3.45 3.45l-3.45 3.45z" fill="#fff9b6" stroke="#fff9b6"/><path d="M381.2 425.5l3.45 -3.45l3.45 3.45l-3.45 3.45z" fill="#d5eef5" stroke="#d5eef5"/><path d="M377.8 428.9l3.45 -3.45l3.45 3.45l-3.45 3.45z" fill="#f8fccb" stroke="#f8fccb"/><path d="M374.4 432.3l3.45 -3.45l3.45 3.45l-3.45 3.45z" fill="#feeca3" stroke="#feeca3"/><path d="M370.9 435.7l3.45 -3.45l3.45 3.45l-3.45 3.45z" fill="#fee597" stroke="#fee597"/><path d="M367.6 439.1l3.45 -3.45l3.45 3.45l-3.45 3.45z" fill="#fed787" stroke="#fed787"/><path d="M364.2 442.5l3.45 -3.45l3.45 3.45l-3.45 3.45z" fill="#fec779" stroke="#fec779"/><path d="M360.8 445.9l3.45 -3.45l3.45 3.45l-3.45 3.45z" fill="#fed182" stroke="#fed182"/><path d="M357.4 449.3l3.45 -3.45l3.45 3.45l-3.45 3.45z" fill="#fee598" stroke="#fee598"/><path d="M353.9 452.7l3.45 -3.45l3.45 3.45l-3.45 3.45z" fill="#fff8b4" stroke="#fff8b4"/><path d="M350.6 456.1l3.45 -3.45l3.45 3.45l-3.45 3.45z" fill="#f5fbd1" stroke="#f5fbd1"/><path d="M347.2 459.5l3.45 -3.45l3.45 3.45l-3.45 3.45z" fill="#eff9dd" stroke="#eff9dd"/><path d="M343.8 462.9l3.45 -3.45l3.45 3.45l-3.45 3.45z" fill="#f3fad4" stroke="#f3fad4"/><path d="M340.4 466.3l3.45 -3.45l3.45 3.45l-3.45 3.45z" fill="#feffc1" stroke="#feffc1"/><path d="M336.9 469.7l3.45 -3.45l3.45 3.45l-3.45 3.45z" fill="#feeca2" stroke="#feeca2"/><path d="M333.6 473.1l3.45 -3.45l3.45 3.45l-3.45 3.45z" fill="#fede8e" stroke="#fede8e"/><path d="M330.2 476.5l3.45 -3.45l3.45 3.45l-3.45 3.45z" fill="#fed485" stroke="#fed485"/><path d="M326.8 479.9l3.45 -3.45l3.45 3.45l-3.45 3.45z" fill="#fee293" stroke="#fee293"/><path d="M323.4 483.3l3.45 -3.45l3.45 3.45l-3.45 3.45z" fill="#fcfec4" stroke="#fcfec4"/><path d="M384.6 428.9l3.45 -3.45l3.45 3.45l-3.45 3.45z" fill="#659bc8" stroke="#659bc8"/><path d="M381.2 432.3l3.45 -3.45l3.45 3.45l-3.45 3.45z" fill="#384da0" stroke="#384da0"/><path d="M377.8 435.7l3.45 -3.45l3.45 3.45l-3.45 3.45z" fill="#89beda" stroke="#89beda"/><path d="M374.4 439.1l3.45 -3.45l3.45 3.45l-3.45 3.45z" fill="#d2ecf4" stroke="#d2ecf4"/><path d="M370.9 442.5l3.45 -3.45l3.45 3.45l-3.45 3.45z" fill="#f5fbd1" stroke="#f5fbd1"/><path d="M367.6 445.9l3.45 -3.45l3.45 3.45l-3.45 3.45z" fill="#fefec2" stroke="#fefec2"/><path d="M364.2 449.3l3.45 -3.45l3.45 3.45l-3.45 3.45z" fill="#f6fccf" stroke="#f6fccf"/><path d="M360.8 452.7l3.45 -3.45l3.45 3.45l-3.45 3.45z" fill="#e2f4f4" stroke="#e2f4f4"/><path d="M357.4 456.1l3.45 -3.45l3.45 3.45l-3.45 3.45z" fill="#c3e5f0" stroke="#c3e5f0"/><path d="M353.9 459.5l3.45 -3.45l3.45 3.45l-3.45 3.45z" fill="#b1dceb" stroke="#b1dceb"/><path d="M350.6 462.9l3.45 -3.45l3.45 3.45l-3.45 3.45z" fill="#afdbea" stroke="#afdbea"/><path d="M347.2 466.3l3.45 -3.45l3.45 3.45l-3.45 3.45z" fill="#ceeaf3" stroke="#ceeaf3"/><path d="M343.8 469.7l3.45 -3.45l3.45 3.45l-3.45 3.45z" fill="#e3f4f2" stroke="#e3f4f2"/><path d="M340.4 473.1l3.45 -3.45l3.45 3.45l-3.45 3.45z" fill="#f5fbd1" stroke="#f5fbd1"/><path d="M336.9 476.5l3.45 -3.45l3.45 3.45l-3.45 3.45z" fill="#fff3ac" stroke="#fff3ac"/><path d="M333.6 479.9l3.45 -3.45l3.45 3.45l-3.45 3.45z" fill="#fee394" stroke="#fee394"/><path d="M330.2 483.3l3.45 -3.45l3.45 3.45l-3.45 3.45z" fill="#fee89c" stroke="#fee89c"/><path d="M326.8 486.7l3.45 -3.45l3.45 3.45l-3.45 3.45z" fill="#feffc0" stroke="#feffc0"/><path d="M387.9 432.3l3.45 -3.45l3.45 3.45l-3.45 3.45z" fill="#5d91c3" stroke="#5d91c3"/><path d="M384.6 435.7l3.45 -3.45l3.45 3.45l-3.45 3.45z" fill="#384b9f" stroke="#384b9f"/><path d="M381.2 439.1l3.45 -3.45l3.45 3.45l-3.45 3.45z" fill="#4a7bb7" stroke="#4a7bb7"/><path d="M377.8 442.5l3.45 -3.45l3.45 3.45l-3.45 3.45z" fill="#86bcd9" stroke="#86bcd9"/><path d="M374.4 445.9l3.45 -3.45l3.45 3.45l-3.45 3.45z" fill="#b2ddeb" stroke="#b2ddeb"/><path d="M370.9 449.3l3.45 -3.45l3.45 3.45l-3.45 3.45z" fill="#c2e4f0" stroke="#c2e4f0"/><path d="M367.6 452.7l3.45 -3.45l3.45 3.45l-3.45 3.45z" fill="#acd9e9" stroke="#acd9e9"/><path d="M364.2 456.1l3.45 -3.45l3.45 3.45l-3.45 3.45z" fill="#90c4dd" stroke="#90c4dd"/><path d="M360.8 459.5l3.45 -3.45l3.45 3.45l-3.45 3.45z" fill="#73abd0" stroke="#73abd0"/><path d="M357.4 462.9l3.45 -3.45l3.45 3.45l-3.45 3.45z" fill="#6fa7ce" stroke="#6fa7ce"/><path d="M353.9 466.3l3.45 -3.45l3.45 3.45l-3.45 3.45z" fill="#89beda" stroke="#89beda"/><path d="M350.6 469.7l3.45 -3.45l3.45 3.45l-3.45 3.45z" fill="#a4d3e6" stroke="#a4d3e6"/><path d="M347.2 473.1l3.45 -3.45l3.45 3.45l-3.45 3.45z" fill="#bce1ee" stroke="#bce1ee"/><path d="M343.8 476.5l3.45 -3.45l3.45 3.45l-3.45 3.45z" fill="#d8eff6" stroke="#d8eff6"/><path d="M340.4 479.9l3.45 -3.45l3.45 3.45l-3.45 3.45z" fill="#f2fad8" stroke="#f2fad8"/><path d="M336.9 483.3l3.45 -3.45l3.45 3.45l-3.45 3.45z" fill="#fff5b0" stroke="#fff5b0"/><path d="M333.6 486.7l3.45 -3.45l3.45 3.45l-3.45 3.45z" fill="#feeba1" stroke="#feeba1"/><path d="M330.2 490.1l3.45 -3.45l3.45 3.45l-3.45 3.45z" fill="#fff8b4" stroke="#fff8b4"/><path d="M387.9 439.1l3.45 -3.45l3.45 3.45l-3.45 3.45z" fill="#4c7eb8" stroke="#4c7eb8"/><path d="M384.6 442.5l3.45 -3.45l3.45 3.45l-3.45 3.45z" fill="#4f80ba" stroke="#4f80ba"/><path d="M381.2 445.9l3.45 -3.45l3.45 3.45l-3.45 3.45z" fill="#659bc8" stroke="#659bc8"/><path d="M377.8 449.3l3.45 -3.45l3.45 3.45l-3.45 3.45z" fill="#73acd1" stroke="#73acd1"/><path d="M374.4 452.7l3.45 -3.45l3.45 3.45l-3.45 3.45z" fill="#82b8d7" stroke="#82b8d7"/><path d="M370.9 456.1l3.45 -3.45l3.45 3.45l-3.45 3.45z" fill="#6ba3cc" stroke="#6ba3cc"/><path d="M367.6 459.5l3.45 -3.45l3.45 3.45l-3.45 3.45z" fill="#5e93c3" stroke="#5e93c3"/><path d="M364.2 462.9l3.45 -3.45l3.45 3.45l-3.45 3.45z" fill="#5f94c4" stroke="#5f94c4"/><path d="M360.8 466.3l3.45 -3.45l3.45 3.45l-3.45 3.45z" fill="#669cc8" stroke="#669cc8"/><path d="M357.4 469.7l3.45 -3.45l3.45 3.45l-3.45 3.45z" fill="#79b1d3" stroke="#79b1d3"/><path d="M353.9 473.1l3.45 -3.45l3.45 3.45l-3.45 3.45z" fill="#8dc1dc" stroke="#8dc1dc"/><path d="M350.6 476.5l3.45 -3.45l3.45 3.45l-3.45 3.45z" fill="#9fcfe4" stroke="#9fcfe4"/><path d="M347.2 479.9l3.45 -3.45l3.45 3.45l-3.45 3.45z" fill="#b9e0ed" stroke="#b9e0ed"/><path d="M343.8 483.3l3.45 -3.45l3.45 3.45l-3.45 3.45z" fill="#d4edf5" stroke="#d4edf5"/><path d="M340.4 486.7l3.45 -3.45l3.45 3.45l-3.45 3.45z" fill="#e8f6ea" stroke="#e8f6ea"/><path d="M336.9 490.1l3.45 -3.45l3.45 3.45l-3.45 3.45z" fill="#fdfec3" stroke="#fdfec3"/><path d="M333.6 493.5l3.45 -3.45l3.45 3.45l-3.45 3.45z" fill="#f3fad5" stroke="#f3fad5"/><path d="M387.9 445.9l3.45 -3.45l3.45 3.45l-3.45 3.45z" fill="#5588be" stroke="#5588be"/><path d="M384.6 449.3l3.45 -3.45l3.45 3.45l-3.45 3.45z" fill="#598dc1" stroke="#598dc1"/><path d="M381.2 452.7l3.45 -3.45l3.45 3.45l-3.45 3.45z" fill="#5b90c2" stroke="#5b90c2"/><path d="M377.8 456.1l3.45 -3.45l3.45 3.45l-3.45 3.45z" fill="#5a8ec1" stroke="#5a8ec1"/><path d="M374.4 459.5l3.45 -3.45l3.45 3.45l-3.45 3.45z" fill="#4c7db8" stroke="#4c7db8"/><path d="M370.9 462.9l3.45 -3.45l3.45 3.45l-3.45 3.45z" fill="#4878b6" stroke="#4878b6"/><path d="M367.6 466.3l3.45 -3.45l3.45 3.45l-3.45 3.45z" fill="#5183bb" stroke="#5183bb"/><path d="M364.2 469.7l3.45 -3.45l3.45 3.45l-3.45 3.45z" fill="#679dc9" stroke="#679dc9"/><path d="M360.8 473.1l3.45 -3.45l3.45 3.45l-3.45 3.45z" fill="#77afd2" stroke="#77afd2"/><path d="M357.4 476.5l3.45 -3.45l3.45 3.45l-3.45 3.45z" fill="#82b8d7" stroke="#82b8d7"/><path d="M353.9 479.9l3.45 -3.45l3.45 3.45l-3.45 3.45z" fill="#91c5de" stroke="#91c5de"/><path d="M350.6 483.3l3.45 -3.45l3.45 3.45l-3.45 3.45z" fill="#98cae1" stroke="#98cae1"/><path d="M343.8 490.1l3.45 -3.45l3.45 3.45l-3.45 3.45z" fill="#b4ddeb" stroke="#b4ddeb"/><path d="M340.4 493.5l3.45 -3.45l3.45 3.45l-3.45 3.45z" fill="#dbf1f7" stroke="#dbf1f7"/><path d="M336.9 496.9l3.45 -3.45l3.45 3.45l-3.45 3.45z" fill="#d4edf5" stroke="#d4edf5"/><path d="M387.9 452.7l3.45 -3.45l3.45 3.45l-3.45 3.45z" fill="#5082bb" stroke="#5082bb"/><path d="M384.6 456.1l3.45 -3.45l3.45 3.45l-3.45 3.45z" fill="#5386bd" stroke="#5386bd"/><path d="M381.2 459.5l3.45 -3.45l3.45 3.45l-3.45 3.45z" fill="#4e80ba" stroke="#4e80ba"/><path d="M377.8 462.9l3.45 -3.45l3.45 3.45l-3.45 3.45z" fill="#4471b2" stroke="#4471b2"/><path d="M374.4 466.3l3.45 -3.45l3.45 3.45l-3.45 3.45z" fill="#4574b3" stroke="#4574b3"/><path d="M370.9 469.7l3.45 -3.45l3.45 3.45l-3.45 3.45z" fill="#5487bd" stroke="#5487bd"/><path d="M367.6 473.1l3.45 -3.45l3.45 3.45l-3.45 3.45z" fill="#6fa7ce" stroke="#6fa7ce"/></g>
<path d="M184.8 363.2 L228.4 320.0 L268.8 289.1 L320.5 339.8 L326.2 347.3 L329.6 353.0 L334.2 358.4 L414.4 440.0 L397.0 459.0 L387.4 481.0 L333.6 515.4 L327.5 490.0 L231.0 396.7 L218.7 396.5 Z" fill="none" stroke="#000" stroke-width="3" stroke-dasharray="11.5 4.8"/>
<path d="M234.2 328.7 L226.4 336.5 L222.7 332.8 L223.1 345.2 L235.5 345.6 L231.8 341.9 L239.6 334.1Z" fill="#4472c4" stroke="#000" stroke-width="2.6" stroke-linejoin="miter"/>
<path d="M303.6 405.6 L308.5 410.6 L304.8 414.3 L317.2 413.9 L317.6 401.5 L313.9 405.2 L308.9 400.3Z" fill="#ee66dd" stroke="#000" stroke-width="2.6" stroke-linejoin="miter"/>
<path d="M366.7 463.9 L358.9 471.7 L355.2 468.0 L355.6 480.4 L368.0 480.8 L364.3 477.1 L372.1 469.3Z" fill="#4472c4" stroke="#000" stroke-width="2.6" stroke-linejoin="miter"/>
<text x="291.5" y="398.5" text-anchor="middle" font-family="Liberation Sans" font-size="24" font-weight="bold">X</text>
<text x="381.8" y="468.5" text-anchor="middle" font-family="Liberation Sans" font-size="23.5" font-weight="bold">Y</text>
<defs><linearGradient id="cb" x1="0" y1="0" x2="0" y2="1"><stop offset="0.00" stop-color="#a50026"/><stop offset="0.10" stop-color="#d73027"/><stop offset="0.20" stop-color="#f46d43"/><stop offset="0.30" stop-color="#fdae61"/><stop offset="0.40" stop-color="#fee090"/><stop offset="0.50" stop-color="#ffffbf"/><stop offset="0.60" stop-color="#e0f3f8"/><stop offset="0.70" stop-color="#abd9e9"/><stop offset="0.80" stop-color="#74add1"/><stop offset="0.90" stop-color="#4575b4"/><stop offset="1.00" stop-color="#313695"/></linearGradient></defs>
<rect x="425" y="298.3" width="12.6" height="200.3" fill="url(#cb)" stroke="#666" stroke-width="0.5"/>
<line x1="435.8" y1="316.5" x2="437.6" y2="316.5" stroke="#444" stroke-width="0.8"/>
<g font-family="Liberation Sans" font-size="15.5" fill="#111"><text x="442" y="305">10</text><text x="440.8" y="504.4" font-size="16">-100</text></g>
<text transform="translate(481.2 292) rotate(90)" font-family="Liberation Sans" font-size="17" fill="#111" textLength="210.4" lengthAdjust="spacingAndGlyphs">Magnetization direction (deg)</text>
<defs><clipPath id="pc"><path d="M517.9 321.3 L654.3 321.3 L685.0 352.0 L685.0 490.4 L558.1 490.4 L517.9 448.4 Z"/></clipPath><clipPath id="circ"><circle cx="600.6" cy="406.6" r="94.9"/></clipPath><radialGradient id="tan" cx="600.6" cy="406.6" r="94.9" gradientUnits="userSpaceOnUse"><stop offset="0" stop-color="#e6cf96"/><stop offset="0.8" stop-color="#ebd6a0"/><stop offset="0.95" stop-color="#e8d4a2"/><stop offset="1" stop-color="#8a7650"/></radialGradient><linearGradient id="cry" x1="0" y1="0" x2="0.6" y2="1"><stop offset="0" stop-color="#a9a3a6"/><stop offset="0.5" stop-color="#b3acaf"/><stop offset="1" stop-color="#bfb9b8"/></linearGradient><filter id="bl" x="-20%" y="-20%" width="140%" height="140%"><feGaussianBlur stdDeviation="2.5"/></filter><filter id="bl2" x="-20%" y="-20%" width="140%" height="140%"><feGaussianBlur stdDeviation="1.2"/></filter></defs>
<g clip-path="url(#pc)">
<rect x="517" y="320" width="170" height="172" fill="#050403"/>
<g clip-path="url(#circ)">
<circle cx="600.6" cy="406.6" r="94.9" fill="url(#tan)"/>
<path d="M508 372 L521 376 L530 388 L537 400 L543 425 L550 447 L564 468 L585 484 L612 488 L620 470 L640 460 L660 443 L676 426 L690 418 L700 418 L700 520 L508 520 Z" fill="#f0e6df" filter="url(#bl)"/>
<path d="M528 372 L549 399 L588 433 L617 467 L621 478 L608 482 L592 472 L572 455 L553 437 L541 418 L534 398 L524 380 Z" fill="#e0cb95" filter="url(#bl)"/>
<path d="M546 412 L560 424 L585 452 L598 470" fill="none" stroke="#b09a68" stroke-width="3" filter="url(#bl)" opacity="0.6"/>
<path d="M522 395 L532 400 L540 420 L530 425 Z" fill="#d9cfc2" filter="url(#bl)" opacity="0.6"/>
<path d="M597 320 L603.5 334 L613 350.5 L622 360.5 L634.5 377 L655 396.5 L685 428" fill="none" stroke="#6a5634" stroke-width="4.4" filter="url(#bl2)" opacity="0.85"/>
<path d="M560 333 L584 320" fill="none" stroke="#9a8a60" stroke-width="3" filter="url(#bl2)" opacity="0.6"/>
<path d="M547 402 L586 436 L615 470" fill="none" stroke="#8a7650" stroke-width="3" filter="url(#bl2)" opacity="0.5"/>
</g>
<path d="M521.0 371.0 L530.0 360.5 L541.6 351.2 L562.8 336.6 L575.0 329.5 L585.0 324.5 L593.0 321.8 L599.0 336.0 L608.7 353.0 L617.8 363.3 L630.3 380.0 L651.1 400.0 L681.0 431.0 L665.0 451.6 L650.0 465.0 L637.0 478.0 L627.7 486.0 L617.4 468.6 L588.4 434.5 L549.0 400.4Z" fill="url(#cry)" stroke="#6e6966" stroke-width="0.7"/>
<path d="M598 337.5 L607.5 354 L616.5 364.3 L629 381 L650 401 L678 431" fill="none" stroke="#cfc9c8" stroke-width="2" opacity="0.7"/>
<path d="M603 446 Q606 440 618 437 Q640 432 660 432 Q668 434 670 440" fill="none" stroke="#86817f" stroke-width="0.7"/>
<path d="M609 451 Q622 446 640 447 Q648 446 650 450 Q654 448 657 452" fill="none" stroke="#5c5856" stroke-width="1"/>
<path d="M627.7 486 L622 462 L634 462 L648 458 L662 452 L665 451.6 L650 465 L637 478 Z" fill="#8f8a86" opacity="0.7"/>
<path d="M565 349 Q572 342 585 338" fill="none" stroke="#6a6462" stroke-width="2.4" filter="url(#bl2)"/>
<path d="M571 334 Q580 330 596 333" fill="none" stroke="#7a7472" stroke-width="1.2" filter="url(#bl2)" opacity="0.8"/>
<g fill="#5a5553"><circle cx="595" cy="346" r="0.8"/><circle cx="597" cy="351" r="0.9"/><circle cx="629" cy="390" r="1"/><circle cx="633" cy="386" r="0.7"/><circle cx="610" cy="362" r="0.6"/><circle cx="585" cy="357" r="0.6"/></g>
<path d="M586 325 L596 324 L601 335 L592 338 Z" fill="#7a7573" opacity="0.7" filter="url(#bl2)"/>
<path d="M530 372 Q536 380 540 392" fill="none" stroke="#6a6563" stroke-width="0.8" opacity="0.7"/>
</g>
<path d="M520.6 374.1 H556" stroke="#000" stroke-width="3.2"/>
<path d="M565 374.1 L553 368.8 L553 379.4 Z" fill="#000"/>
<path d="M520.6 374.1 L545.5 396.3" stroke="#000" stroke-width="3.2"/>
<path d="M553.2 403.2 L541.6 399.2 L549.5 390.3 Z" fill="#000"/>
<text x="569" y="379" font-family="Liberation Sans" font-size="18.5" font-weight="bold">a</text>
<text x="540.2" y="419.9" font-family="Liberation Sans" font-size="18.5" font-weight="bold" textLength="25.6" lengthAdjust="spacing">x //</text>
<text x="573.60" y="419.90" font-family="Liberation Serif" font-size="20" font-weight="bold" textLength="45.40" lengthAdjust="spacingAndGlyphs">[110]</text><line x1="592.64" y1="404.40" x2="601.14" y2="404.40" stroke="#000" stroke-width="1.7"/>
<text x="529" y="458.4" font-family="Liberation Serif" font-size="16.5" textLength="53" lengthAdjust="spacingAndGlyphs">400 <tspan font-style="italic">&#956;m</tspan></text>
<rect x="524.9" y="464.5" width="62.1" height="5.1" fill="#000"/>
</svg>
</body></html>
